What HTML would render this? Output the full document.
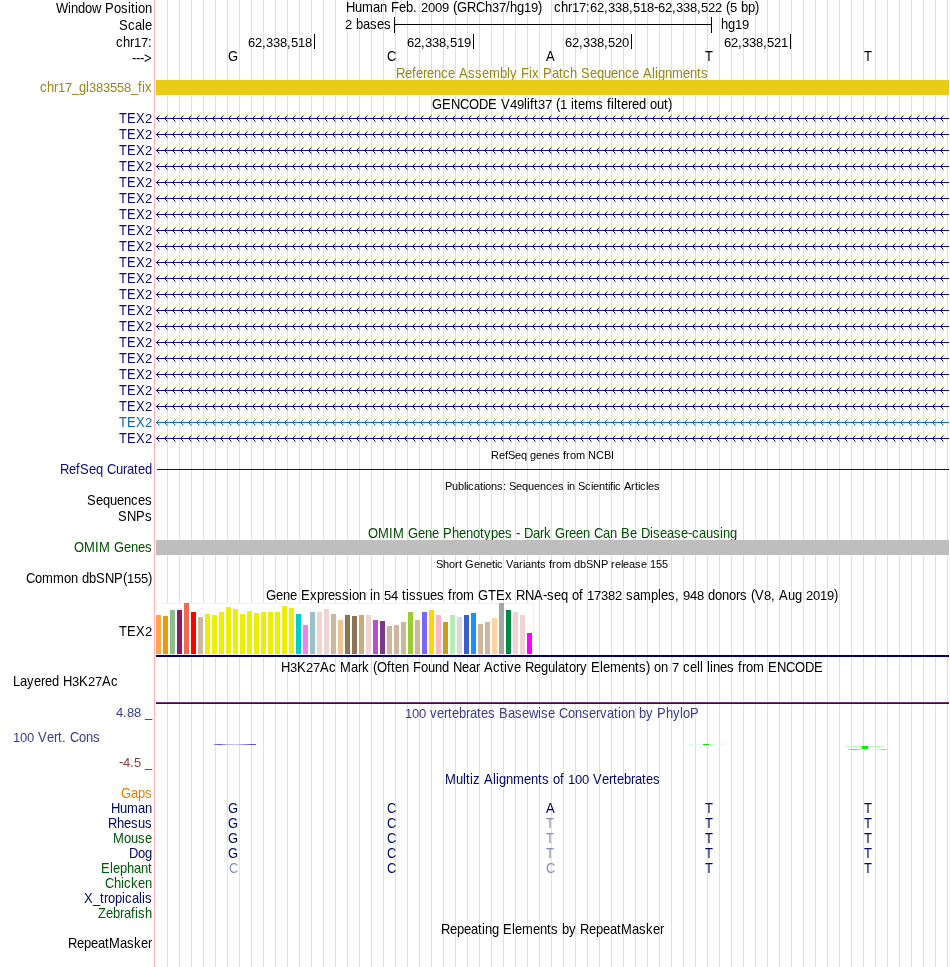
<!DOCTYPE html>
<html><head><meta charset="utf-8"><title>UCSC Genome Browser</title>
<style>
html,body{margin:0;padding:0;background:#fff;overflow:hidden;}
svg{display:block;font-family:"Liberation Sans", sans-serif;will-change:transform;}
text{white-space:pre;font-kerning:none;font-variant-ligatures:none;}
</style></head><body>
<svg width="950" height="967" viewBox="0 0 950 967">
<rect width="950" height="967" fill="#fff"/>
<path d="M167.5,0V967M179.5,0V967M191.5,0V967M203.5,0V967M215.5,0V967M227.5,0V967M239.5,0V967M251.5,0V967M263.5,0V967M275.5,0V967M287.5,0V967M299.5,0V967M311.5,0V967M323.5,0V967M335.5,0V967M347.5,0V967M359.5,0V967M371.5,0V967M383.5,0V967M395.5,0V967M407.5,0V967M419.5,0V967M431.5,0V967M443.5,0V967M455.5,0V967M467.5,0V967M479.5,0V967M491.5,0V967M503.5,0V967M515.5,0V967M527.5,0V967M539.5,0V967M551.5,0V967M563.5,0V967M575.5,0V967M587.5,0V967M599.5,0V967M611.5,0V967M623.5,0V967M635.5,0V967M647.5,0V967M659.5,0V967M671.5,0V967M683.5,0V967M695.5,0V967M707.5,0V967M719.5,0V967M731.5,0V967M743.5,0V967M755.5,0V967M767.5,0V967M779.5,0V967M791.5,0V967M803.5,0V967M815.5,0V967M827.5,0V967M839.5,0V967M851.5,0V967M863.5,0V967M875.5,0V967M887.5,0V967M899.5,0V967M911.5,0V967M923.5,0V967M935.5,0V967M947.5,0V967" stroke="#dcdcff" stroke-width="1" fill="none" shape-rendering="crispEdges"/>
<rect x="154" y="0" width="1" height="967" fill="#ffb3b6"/>
<text x="56 68 71 78 85 92 101 105 114 121 128 131 135 138 145" y="0" transform="matrix(1 0 0 1.075 0 13)" font-size="13" fill="#000">Window Position</text>
<text x="119 128 135 142 145" y="0" transform="matrix(1 0 0 1.075 0 30)" font-size="13" fill="#000">Scale</text>
<text x="116 123 130" y="0" transform="matrix(1 0 0 1.075 0 47)" font-size="13" fill="#000">chr</text><text x="134 141" y="47" font-size="13" fill="#000">17</text><text x="148" y="0" transform="matrix(1 0 0 1.075 0 47)" font-size="13" fill="#000">:</text>
<text x="132 136 140 144" y="0" transform="matrix(1 0 0 1.075 0 63)" font-size="13" fill="#000">---&gt;</text>
<text x="346 355 362 373 380 387 391 399 406 413 417" y="0" transform="matrix(1 0 0 1.075 0 12)" font-size="13" fill="#000">Human Feb. </text><text x="421 428 435 442 449" y="12" font-size="13" fill="#000">2009 </text><text x="453 457 467 476 485" y="0" transform="matrix(1 0 0 1.075 0 12)" font-size="13" fill="#000">(GRCh</text><text x="492 499" y="12" font-size="13" fill="#000">37</text><text x="506 510 517" y="0" transform="matrix(1 0 0 1.075 0 12)" font-size="13" fill="#000">/hg</text><text x="524 531" y="12" font-size="13" fill="#000">19</text><text x="538" y="0" transform="matrix(1 0 0 1.075 0 12)" font-size="13" fill="#000">)</text>
<text x="554 561 568" y="0" transform="matrix(1 0 0 1.075 0 12)" font-size="13" fill="#000">chr</text><text x="572 579" y="12" font-size="13" fill="#000">17</text><text x="586" y="0" transform="matrix(1 0 0 1.075 0 12)" font-size="13" fill="#000">:</text><text x="590 597" y="12" font-size="13" fill="#000">62</text><text x="604" y="0" transform="matrix(1 0 0 1.075 0 12)" font-size="13" fill="#000">,</text><text x="608 615 622" y="12" font-size="13" fill="#000">338</text><text x="629" y="0" transform="matrix(1 0 0 1.075 0 12)" font-size="13" fill="#000">,</text><text x="633 640 647" y="12" font-size="13" fill="#000">518</text><text x="654" y="0" transform="matrix(1 0 0 1.075 0 12)" font-size="13" fill="#000">-</text><text x="658 665" y="12" font-size="13" fill="#000">62</text><text x="672" y="0" transform="matrix(1 0 0 1.075 0 12)" font-size="13" fill="#000">,</text><text x="676 683 690" y="12" font-size="13" fill="#000">338</text><text x="697" y="0" transform="matrix(1 0 0 1.075 0 12)" font-size="13" fill="#000">,</text><text x="701 708 715 722" y="12" font-size="13" fill="#000">522 </text><text x="726" y="0" transform="matrix(1 0 0 1.075 0 12)" font-size="13" fill="#000">(</text><text x="730 737" y="12" font-size="13" fill="#000">5 </text><text x="741 748 755" y="0" transform="matrix(1 0 0 1.075 0 12)" font-size="13" fill="#000">bp)</text>
<text x="345 352" y="29" font-size="13" fill="#000">2 </text><text x="356 363 370 377 384" y="0" transform="matrix(1 0 0 1.075 0 29)" font-size="13" fill="#000">bases</text>
<rect x="394" y="17" width="1" height="16" fill="#000"/>
<rect x="711" y="17" width="1" height="16" fill="#000"/>
<rect x="394" y="24" width="318" height="1" fill="#000"/>
<text x="721 728" y="0" transform="matrix(1 0 0 1.075 0 29)" font-size="13" fill="#000">hg</text><text x="735 742" y="29" font-size="13" fill="#000">19</text>
<rect x="314" y="34" width="1" height="15" fill="#000"/>
<text x="248 255" y="47" font-size="13" fill="#000">62</text><text x="262" y="0" transform="matrix(1 0 0 1.075 0 47)" font-size="13" fill="#000">,</text><text x="266 273 280" y="47" font-size="13" fill="#000">338</text><text x="287" y="0" transform="matrix(1 0 0 1.075 0 47)" font-size="13" fill="#000">,</text><text x="291 298 305" y="47" font-size="13" fill="#000">518</text>
<rect x="473" y="34" width="1" height="15" fill="#000"/>
<text x="407 414" y="47" font-size="13" fill="#000">62</text><text x="421" y="0" transform="matrix(1 0 0 1.075 0 47)" font-size="13" fill="#000">,</text><text x="425 432 439" y="47" font-size="13" fill="#000">338</text><text x="446" y="0" transform="matrix(1 0 0 1.075 0 47)" font-size="13" fill="#000">,</text><text x="450 457 464" y="47" font-size="13" fill="#000">519</text>
<rect x="631" y="34" width="1" height="15" fill="#000"/>
<text x="565 572" y="47" font-size="13" fill="#000">62</text><text x="579" y="0" transform="matrix(1 0 0 1.075 0 47)" font-size="13" fill="#000">,</text><text x="583 590 597" y="47" font-size="13" fill="#000">338</text><text x="604" y="0" transform="matrix(1 0 0 1.075 0 47)" font-size="13" fill="#000">,</text><text x="608 615 622" y="47" font-size="13" fill="#000">520</text>
<rect x="790" y="34" width="1" height="15" fill="#000"/>
<text x="724 731" y="47" font-size="13" fill="#000">62</text><text x="738" y="0" transform="matrix(1 0 0 1.075 0 47)" font-size="13" fill="#000">,</text><text x="742 749 756" y="47" font-size="13" fill="#000">338</text><text x="763" y="0" transform="matrix(1 0 0 1.075 0 47)" font-size="13" fill="#000">,</text><text x="767 774 781" y="47" font-size="13" fill="#000">521</text>
<text x="228" y="0" transform="matrix(1 0 0 1.075 0 61)" font-size="13" fill="#000">G</text>
<text x="387" y="0" transform="matrix(1 0 0 1.075 0 61)" font-size="13" fill="#000">C</text>
<text x="546" y="0" transform="matrix(1 0 0 1.075 0 61)" font-size="13" fill="#000">A</text>
<text x="705" y="0" transform="matrix(1 0 0 1.075 0 61)" font-size="13" fill="#000">T</text>
<text x="864" y="0" transform="matrix(1 0 0 1.075 0 61)" font-size="13" fill="#000">T</text>
<text x="396 405 412 416 423 427 434 441 448 455 459 468 475 482 489 500 507 510 517 521 529 532 539 543 552 559 563 570 577 581 590 597 604 611 618 625 632 639 643 652 655 658 665 672 683 690 697 701" y="0" transform="matrix(1 0 0 1.075 0 78)" font-size="13" fill="#9c8616">Reference Assembly Fix Patch Sequence Alignments</text>
<rect x="156" y="80" width="793" height="15" fill="#e8cc18"/>
<text x="40 47 54" y="0" transform="matrix(1 0 0 1.075 0 92)" font-size="13" fill="#9c8616">chr</text><text x="58 65" y="92" font-size="13" fill="#9c8616">17</text><text x="72 79 86" y="0" transform="matrix(1 0 0 1.075 0 92)" font-size="13" fill="#9c8616">_gl</text><text x="89 96 103 110 117 124" y="92" font-size="13" fill="#9c8616">383558</text><text x="131 138 142 145" y="0" transform="matrix(1 0 0 1.075 0 92)" font-size="13" fill="#9c8616">_fix</text>
<text x="432 442 451 460 469 479 488 497 501" y="0" transform="matrix(1 0 0 1.075 0 109)" font-size="13" fill="#000">GENCODE V</text><text x="510 517" y="109" font-size="13" fill="#000">49</text><text x="524 527 530 534" y="0" transform="matrix(1 0 0 1.075 0 109)" font-size="13" fill="#000">lift</text><text x="538 545 552" y="109" font-size="13" fill="#000">37 </text><text x="556" y="0" transform="matrix(1 0 0 1.075 0 109)" font-size="13" fill="#000">(</text><text x="560 567" y="109" font-size="13" fill="#000">1 </text><text x="571 574 578 585 596 603 607 611 614 617 621 628 632 639 646 650 657 664 668" y="0" transform="matrix(1 0 0 1.075 0 109)" font-size="13" fill="#000">items filtered out)</text>
<text x="119 127 136" y="0" transform="matrix(1 0 0 1.075 0 123)" font-size="13" fill="#0c0c78">TEX</text><text x="145" y="123" font-size="13" fill="#0c0c78">2</text>
<rect x="156" y="118" width="793" height="1" fill="#0c0c78"/>
<path d="M159.5,115.5L156.5,118.5L159.5,121.5M167.5,115.5L164.5,118.5L167.5,121.5M175.5,115.5L172.5,118.5L175.5,121.5M183.5,115.5L180.5,118.5L183.5,121.5M191.5,115.5L188.5,118.5L191.5,121.5M199.5,115.5L196.5,118.5L199.5,121.5M207.5,115.5L204.5,118.5L207.5,121.5M215.5,115.5L212.5,118.5L215.5,121.5M223.5,115.5L220.5,118.5L223.5,121.5M231.5,115.5L228.5,118.5L231.5,121.5M239.5,115.5L236.5,118.5L239.5,121.5M247.5,115.5L244.5,118.5L247.5,121.5M255.5,115.5L252.5,118.5L255.5,121.5M263.5,115.5L260.5,118.5L263.5,121.5M271.5,115.5L268.5,118.5L271.5,121.5M279.5,115.5L276.5,118.5L279.5,121.5M287.5,115.5L284.5,118.5L287.5,121.5M295.5,115.5L292.5,118.5L295.5,121.5M303.5,115.5L300.5,118.5L303.5,121.5M311.5,115.5L308.5,118.5L311.5,121.5M319.5,115.5L316.5,118.5L319.5,121.5M327.5,115.5L324.5,118.5L327.5,121.5M335.5,115.5L332.5,118.5L335.5,121.5M343.5,115.5L340.5,118.5L343.5,121.5M351.5,115.5L348.5,118.5L351.5,121.5M359.5,115.5L356.5,118.5L359.5,121.5M367.5,115.5L364.5,118.5L367.5,121.5M375.5,115.5L372.5,118.5L375.5,121.5M383.5,115.5L380.5,118.5L383.5,121.5M391.5,115.5L388.5,118.5L391.5,121.5M399.5,115.5L396.5,118.5L399.5,121.5M407.5,115.5L404.5,118.5L407.5,121.5M415.5,115.5L412.5,118.5L415.5,121.5M423.5,115.5L420.5,118.5L423.5,121.5M431.5,115.5L428.5,118.5L431.5,121.5M439.5,115.5L436.5,118.5L439.5,121.5M447.5,115.5L444.5,118.5L447.5,121.5M455.5,115.5L452.5,118.5L455.5,121.5M463.5,115.5L460.5,118.5L463.5,121.5M471.5,115.5L468.5,118.5L471.5,121.5M479.5,115.5L476.5,118.5L479.5,121.5M487.5,115.5L484.5,118.5L487.5,121.5M495.5,115.5L492.5,118.5L495.5,121.5M503.5,115.5L500.5,118.5L503.5,121.5M511.5,115.5L508.5,118.5L511.5,121.5M519.5,115.5L516.5,118.5L519.5,121.5M527.5,115.5L524.5,118.5L527.5,121.5M535.5,115.5L532.5,118.5L535.5,121.5M543.5,115.5L540.5,118.5L543.5,121.5M551.5,115.5L548.5,118.5L551.5,121.5M559.5,115.5L556.5,118.5L559.5,121.5M567.5,115.5L564.5,118.5L567.5,121.5M575.5,115.5L572.5,118.5L575.5,121.5M583.5,115.5L580.5,118.5L583.5,121.5M591.5,115.5L588.5,118.5L591.5,121.5M599.5,115.5L596.5,118.5L599.5,121.5M607.5,115.5L604.5,118.5L607.5,121.5M615.5,115.5L612.5,118.5L615.5,121.5M623.5,115.5L620.5,118.5L623.5,121.5M631.5,115.5L628.5,118.5L631.5,121.5M639.5,115.5L636.5,118.5L639.5,121.5M647.5,115.5L644.5,118.5L647.5,121.5M655.5,115.5L652.5,118.5L655.5,121.5M663.5,115.5L660.5,118.5L663.5,121.5M671.5,115.5L668.5,118.5L671.5,121.5M679.5,115.5L676.5,118.5L679.5,121.5M687.5,115.5L684.5,118.5L687.5,121.5M695.5,115.5L692.5,118.5L695.5,121.5M703.5,115.5L700.5,118.5L703.5,121.5M711.5,115.5L708.5,118.5L711.5,121.5M719.5,115.5L716.5,118.5L719.5,121.5M727.5,115.5L724.5,118.5L727.5,121.5M735.5,115.5L732.5,118.5L735.5,121.5M743.5,115.5L740.5,118.5L743.5,121.5M751.5,115.5L748.5,118.5L751.5,121.5M759.5,115.5L756.5,118.5L759.5,121.5M767.5,115.5L764.5,118.5L767.5,121.5M775.5,115.5L772.5,118.5L775.5,121.5M783.5,115.5L780.5,118.5L783.5,121.5M791.5,115.5L788.5,118.5L791.5,121.5M799.5,115.5L796.5,118.5L799.5,121.5M807.5,115.5L804.5,118.5L807.5,121.5M815.5,115.5L812.5,118.5L815.5,121.5M823.5,115.5L820.5,118.5L823.5,121.5M831.5,115.5L828.5,118.5L831.5,121.5M839.5,115.5L836.5,118.5L839.5,121.5M847.5,115.5L844.5,118.5L847.5,121.5M855.5,115.5L852.5,118.5L855.5,121.5M863.5,115.5L860.5,118.5L863.5,121.5M871.5,115.5L868.5,118.5L871.5,121.5M879.5,115.5L876.5,118.5L879.5,121.5M887.5,115.5L884.5,118.5L887.5,121.5M895.5,115.5L892.5,118.5L895.5,121.5M903.5,115.5L900.5,118.5L903.5,121.5M911.5,115.5L908.5,118.5L911.5,121.5M919.5,115.5L916.5,118.5L919.5,121.5M927.5,115.5L924.5,118.5L927.5,121.5M935.5,115.5L932.5,118.5L935.5,121.5M943.5,115.5L940.5,118.5L943.5,121.5" stroke="#0c0c78" stroke-width="1" fill="none"/>
<text x="119 127 136" y="0" transform="matrix(1 0 0 1.075 0 139)" font-size="13" fill="#0c0c78">TEX</text><text x="145" y="139" font-size="13" fill="#0c0c78">2</text>
<rect x="156" y="134" width="793" height="1" fill="#0c0c78"/>
<path d="M159.5,131.5L156.5,134.5L159.5,137.5M167.5,131.5L164.5,134.5L167.5,137.5M175.5,131.5L172.5,134.5L175.5,137.5M183.5,131.5L180.5,134.5L183.5,137.5M191.5,131.5L188.5,134.5L191.5,137.5M199.5,131.5L196.5,134.5L199.5,137.5M207.5,131.5L204.5,134.5L207.5,137.5M215.5,131.5L212.5,134.5L215.5,137.5M223.5,131.5L220.5,134.5L223.5,137.5M231.5,131.5L228.5,134.5L231.5,137.5M239.5,131.5L236.5,134.5L239.5,137.5M247.5,131.5L244.5,134.5L247.5,137.5M255.5,131.5L252.5,134.5L255.5,137.5M263.5,131.5L260.5,134.5L263.5,137.5M271.5,131.5L268.5,134.5L271.5,137.5M279.5,131.5L276.5,134.5L279.5,137.5M287.5,131.5L284.5,134.5L287.5,137.5M295.5,131.5L292.5,134.5L295.5,137.5M303.5,131.5L300.5,134.5L303.5,137.5M311.5,131.5L308.5,134.5L311.5,137.5M319.5,131.5L316.5,134.5L319.5,137.5M327.5,131.5L324.5,134.5L327.5,137.5M335.5,131.5L332.5,134.5L335.5,137.5M343.5,131.5L340.5,134.5L343.5,137.5M351.5,131.5L348.5,134.5L351.5,137.5M359.5,131.5L356.5,134.5L359.5,137.5M367.5,131.5L364.5,134.5L367.5,137.5M375.5,131.5L372.5,134.5L375.5,137.5M383.5,131.5L380.5,134.5L383.5,137.5M391.5,131.5L388.5,134.5L391.5,137.5M399.5,131.5L396.5,134.5L399.5,137.5M407.5,131.5L404.5,134.5L407.5,137.5M415.5,131.5L412.5,134.5L415.5,137.5M423.5,131.5L420.5,134.5L423.5,137.5M431.5,131.5L428.5,134.5L431.5,137.5M439.5,131.5L436.5,134.5L439.5,137.5M447.5,131.5L444.5,134.5L447.5,137.5M455.5,131.5L452.5,134.5L455.5,137.5M463.5,131.5L460.5,134.5L463.5,137.5M471.5,131.5L468.5,134.5L471.5,137.5M479.5,131.5L476.5,134.5L479.5,137.5M487.5,131.5L484.5,134.5L487.5,137.5M495.5,131.5L492.5,134.5L495.5,137.5M503.5,131.5L500.5,134.5L503.5,137.5M511.5,131.5L508.5,134.5L511.5,137.5M519.5,131.5L516.5,134.5L519.5,137.5M527.5,131.5L524.5,134.5L527.5,137.5M535.5,131.5L532.5,134.5L535.5,137.5M543.5,131.5L540.5,134.5L543.5,137.5M551.5,131.5L548.5,134.5L551.5,137.5M559.5,131.5L556.5,134.5L559.5,137.5M567.5,131.5L564.5,134.5L567.5,137.5M575.5,131.5L572.5,134.5L575.5,137.5M583.5,131.5L580.5,134.5L583.5,137.5M591.5,131.5L588.5,134.5L591.5,137.5M599.5,131.5L596.5,134.5L599.5,137.5M607.5,131.5L604.5,134.5L607.5,137.5M615.5,131.5L612.5,134.5L615.5,137.5M623.5,131.5L620.5,134.5L623.5,137.5M631.5,131.5L628.5,134.5L631.5,137.5M639.5,131.5L636.5,134.5L639.5,137.5M647.5,131.5L644.5,134.5L647.5,137.5M655.5,131.5L652.5,134.5L655.5,137.5M663.5,131.5L660.5,134.5L663.5,137.5M671.5,131.5L668.5,134.5L671.5,137.5M679.5,131.5L676.5,134.5L679.5,137.5M687.5,131.5L684.5,134.5L687.5,137.5M695.5,131.5L692.5,134.5L695.5,137.5M703.5,131.5L700.5,134.5L703.5,137.5M711.5,131.5L708.5,134.5L711.5,137.5M719.5,131.5L716.5,134.5L719.5,137.5M727.5,131.5L724.5,134.5L727.5,137.5M735.5,131.5L732.5,134.5L735.5,137.5M743.5,131.5L740.5,134.5L743.5,137.5M751.5,131.5L748.5,134.5L751.5,137.5M759.5,131.5L756.5,134.5L759.5,137.5M767.5,131.5L764.5,134.5L767.5,137.5M775.5,131.5L772.5,134.5L775.5,137.5M783.5,131.5L780.5,134.5L783.5,137.5M791.5,131.5L788.5,134.5L791.5,137.5M799.5,131.5L796.5,134.5L799.5,137.5M807.5,131.5L804.5,134.5L807.5,137.5M815.5,131.5L812.5,134.5L815.5,137.5M823.5,131.5L820.5,134.5L823.5,137.5M831.5,131.5L828.5,134.5L831.5,137.5M839.5,131.5L836.5,134.5L839.5,137.5M847.5,131.5L844.5,134.5L847.5,137.5M855.5,131.5L852.5,134.5L855.5,137.5M863.5,131.5L860.5,134.5L863.5,137.5M871.5,131.5L868.5,134.5L871.5,137.5M879.5,131.5L876.5,134.5L879.5,137.5M887.5,131.5L884.5,134.5L887.5,137.5M895.5,131.5L892.5,134.5L895.5,137.5M903.5,131.5L900.5,134.5L903.5,137.5M911.5,131.5L908.5,134.5L911.5,137.5M919.5,131.5L916.5,134.5L919.5,137.5M927.5,131.5L924.5,134.5L927.5,137.5M935.5,131.5L932.5,134.5L935.5,137.5M943.5,131.5L940.5,134.5L943.5,137.5" stroke="#0c0c78" stroke-width="1" fill="none"/>
<text x="119 127 136" y="0" transform="matrix(1 0 0 1.075 0 155)" font-size="13" fill="#0c0c78">TEX</text><text x="145" y="155" font-size="13" fill="#0c0c78">2</text>
<rect x="156" y="150" width="793" height="1" fill="#0c0c78"/>
<path d="M159.5,147.5L156.5,150.5L159.5,153.5M167.5,147.5L164.5,150.5L167.5,153.5M175.5,147.5L172.5,150.5L175.5,153.5M183.5,147.5L180.5,150.5L183.5,153.5M191.5,147.5L188.5,150.5L191.5,153.5M199.5,147.5L196.5,150.5L199.5,153.5M207.5,147.5L204.5,150.5L207.5,153.5M215.5,147.5L212.5,150.5L215.5,153.5M223.5,147.5L220.5,150.5L223.5,153.5M231.5,147.5L228.5,150.5L231.5,153.5M239.5,147.5L236.5,150.5L239.5,153.5M247.5,147.5L244.5,150.5L247.5,153.5M255.5,147.5L252.5,150.5L255.5,153.5M263.5,147.5L260.5,150.5L263.5,153.5M271.5,147.5L268.5,150.5L271.5,153.5M279.5,147.5L276.5,150.5L279.5,153.5M287.5,147.5L284.5,150.5L287.5,153.5M295.5,147.5L292.5,150.5L295.5,153.5M303.5,147.5L300.5,150.5L303.5,153.5M311.5,147.5L308.5,150.5L311.5,153.5M319.5,147.5L316.5,150.5L319.5,153.5M327.5,147.5L324.5,150.5L327.5,153.5M335.5,147.5L332.5,150.5L335.5,153.5M343.5,147.5L340.5,150.5L343.5,153.5M351.5,147.5L348.5,150.5L351.5,153.5M359.5,147.5L356.5,150.5L359.5,153.5M367.5,147.5L364.5,150.5L367.5,153.5M375.5,147.5L372.5,150.5L375.5,153.5M383.5,147.5L380.5,150.5L383.5,153.5M391.5,147.5L388.5,150.5L391.5,153.5M399.5,147.5L396.5,150.5L399.5,153.5M407.5,147.5L404.5,150.5L407.5,153.5M415.5,147.5L412.5,150.5L415.5,153.5M423.5,147.5L420.5,150.5L423.5,153.5M431.5,147.5L428.5,150.5L431.5,153.5M439.5,147.5L436.5,150.5L439.5,153.5M447.5,147.5L444.5,150.5L447.5,153.5M455.5,147.5L452.5,150.5L455.5,153.5M463.5,147.5L460.5,150.5L463.5,153.5M471.5,147.5L468.5,150.5L471.5,153.5M479.5,147.5L476.5,150.5L479.5,153.5M487.5,147.5L484.5,150.5L487.5,153.5M495.5,147.5L492.5,150.5L495.5,153.5M503.5,147.5L500.5,150.5L503.5,153.5M511.5,147.5L508.5,150.5L511.5,153.5M519.5,147.5L516.5,150.5L519.5,153.5M527.5,147.5L524.5,150.5L527.5,153.5M535.5,147.5L532.5,150.5L535.5,153.5M543.5,147.5L540.5,150.5L543.5,153.5M551.5,147.5L548.5,150.5L551.5,153.5M559.5,147.5L556.5,150.5L559.5,153.5M567.5,147.5L564.5,150.5L567.5,153.5M575.5,147.5L572.5,150.5L575.5,153.5M583.5,147.5L580.5,150.5L583.5,153.5M591.5,147.5L588.5,150.5L591.5,153.5M599.5,147.5L596.5,150.5L599.5,153.5M607.5,147.5L604.5,150.5L607.5,153.5M615.5,147.5L612.5,150.5L615.5,153.5M623.5,147.5L620.5,150.5L623.5,153.5M631.5,147.5L628.5,150.5L631.5,153.5M639.5,147.5L636.5,150.5L639.5,153.5M647.5,147.5L644.5,150.5L647.5,153.5M655.5,147.5L652.5,150.5L655.5,153.5M663.5,147.5L660.5,150.5L663.5,153.5M671.5,147.5L668.5,150.5L671.5,153.5M679.5,147.5L676.5,150.5L679.5,153.5M687.5,147.5L684.5,150.5L687.5,153.5M695.5,147.5L692.5,150.5L695.5,153.5M703.5,147.5L700.5,150.5L703.5,153.5M711.5,147.5L708.5,150.5L711.5,153.5M719.5,147.5L716.5,150.5L719.5,153.5M727.5,147.5L724.5,150.5L727.5,153.5M735.5,147.5L732.5,150.5L735.5,153.5M743.5,147.5L740.5,150.5L743.5,153.5M751.5,147.5L748.5,150.5L751.5,153.5M759.5,147.5L756.5,150.5L759.5,153.5M767.5,147.5L764.5,150.5L767.5,153.5M775.5,147.5L772.5,150.5L775.5,153.5M783.5,147.5L780.5,150.5L783.5,153.5M791.5,147.5L788.5,150.5L791.5,153.5M799.5,147.5L796.5,150.5L799.5,153.5M807.5,147.5L804.5,150.5L807.5,153.5M815.5,147.5L812.5,150.5L815.5,153.5M823.5,147.5L820.5,150.5L823.5,153.5M831.5,147.5L828.5,150.5L831.5,153.5M839.5,147.5L836.5,150.5L839.5,153.5M847.5,147.5L844.5,150.5L847.5,153.5M855.5,147.5L852.5,150.5L855.5,153.5M863.5,147.5L860.5,150.5L863.5,153.5M871.5,147.5L868.5,150.5L871.5,153.5M879.5,147.5L876.5,150.5L879.5,153.5M887.5,147.5L884.5,150.5L887.5,153.5M895.5,147.5L892.5,150.5L895.5,153.5M903.5,147.5L900.5,150.5L903.5,153.5M911.5,147.5L908.5,150.5L911.5,153.5M919.5,147.5L916.5,150.5L919.5,153.5M927.5,147.5L924.5,150.5L927.5,153.5M935.5,147.5L932.5,150.5L935.5,153.5M943.5,147.5L940.5,150.5L943.5,153.5" stroke="#0c0c78" stroke-width="1" fill="none"/>
<text x="119 127 136" y="0" transform="matrix(1 0 0 1.075 0 171)" font-size="13" fill="#0c0c78">TEX</text><text x="145" y="171" font-size="13" fill="#0c0c78">2</text>
<rect x="156" y="166" width="793" height="1" fill="#0c0c78"/>
<path d="M159.5,163.5L156.5,166.5L159.5,169.5M167.5,163.5L164.5,166.5L167.5,169.5M175.5,163.5L172.5,166.5L175.5,169.5M183.5,163.5L180.5,166.5L183.5,169.5M191.5,163.5L188.5,166.5L191.5,169.5M199.5,163.5L196.5,166.5L199.5,169.5M207.5,163.5L204.5,166.5L207.5,169.5M215.5,163.5L212.5,166.5L215.5,169.5M223.5,163.5L220.5,166.5L223.5,169.5M231.5,163.5L228.5,166.5L231.5,169.5M239.5,163.5L236.5,166.5L239.5,169.5M247.5,163.5L244.5,166.5L247.5,169.5M255.5,163.5L252.5,166.5L255.5,169.5M263.5,163.5L260.5,166.5L263.5,169.5M271.5,163.5L268.5,166.5L271.5,169.5M279.5,163.5L276.5,166.5L279.5,169.5M287.5,163.5L284.5,166.5L287.5,169.5M295.5,163.5L292.5,166.5L295.5,169.5M303.5,163.5L300.5,166.5L303.5,169.5M311.5,163.5L308.5,166.5L311.5,169.5M319.5,163.5L316.5,166.5L319.5,169.5M327.5,163.5L324.5,166.5L327.5,169.5M335.5,163.5L332.5,166.5L335.5,169.5M343.5,163.5L340.5,166.5L343.5,169.5M351.5,163.5L348.5,166.5L351.5,169.5M359.5,163.5L356.5,166.5L359.5,169.5M367.5,163.5L364.5,166.5L367.5,169.5M375.5,163.5L372.5,166.5L375.5,169.5M383.5,163.5L380.5,166.5L383.5,169.5M391.5,163.5L388.5,166.5L391.5,169.5M399.5,163.5L396.5,166.5L399.5,169.5M407.5,163.5L404.5,166.5L407.5,169.5M415.5,163.5L412.5,166.5L415.5,169.5M423.5,163.5L420.5,166.5L423.5,169.5M431.5,163.5L428.5,166.5L431.5,169.5M439.5,163.5L436.5,166.5L439.5,169.5M447.5,163.5L444.5,166.5L447.5,169.5M455.5,163.5L452.5,166.5L455.5,169.5M463.5,163.5L460.5,166.5L463.5,169.5M471.5,163.5L468.5,166.5L471.5,169.5M479.5,163.5L476.5,166.5L479.5,169.5M487.5,163.5L484.5,166.5L487.5,169.5M495.5,163.5L492.5,166.5L495.5,169.5M503.5,163.5L500.5,166.5L503.5,169.5M511.5,163.5L508.5,166.5L511.5,169.5M519.5,163.5L516.5,166.5L519.5,169.5M527.5,163.5L524.5,166.5L527.5,169.5M535.5,163.5L532.5,166.5L535.5,169.5M543.5,163.5L540.5,166.5L543.5,169.5M551.5,163.5L548.5,166.5L551.5,169.5M559.5,163.5L556.5,166.5L559.5,169.5M567.5,163.5L564.5,166.5L567.5,169.5M575.5,163.5L572.5,166.5L575.5,169.5M583.5,163.5L580.5,166.5L583.5,169.5M591.5,163.5L588.5,166.5L591.5,169.5M599.5,163.5L596.5,166.5L599.5,169.5M607.5,163.5L604.5,166.5L607.5,169.5M615.5,163.5L612.5,166.5L615.5,169.5M623.5,163.5L620.5,166.5L623.5,169.5M631.5,163.5L628.5,166.5L631.5,169.5M639.5,163.5L636.5,166.5L639.5,169.5M647.5,163.5L644.5,166.5L647.5,169.5M655.5,163.5L652.5,166.5L655.5,169.5M663.5,163.5L660.5,166.5L663.5,169.5M671.5,163.5L668.5,166.5L671.5,169.5M679.5,163.5L676.5,166.5L679.5,169.5M687.5,163.5L684.5,166.5L687.5,169.5M695.5,163.5L692.5,166.5L695.5,169.5M703.5,163.5L700.5,166.5L703.5,169.5M711.5,163.5L708.5,166.5L711.5,169.5M719.5,163.5L716.5,166.5L719.5,169.5M727.5,163.5L724.5,166.5L727.5,169.5M735.5,163.5L732.5,166.5L735.5,169.5M743.5,163.5L740.5,166.5L743.5,169.5M751.5,163.5L748.5,166.5L751.5,169.5M759.5,163.5L756.5,166.5L759.5,169.5M767.5,163.5L764.5,166.5L767.5,169.5M775.5,163.5L772.5,166.5L775.5,169.5M783.5,163.5L780.5,166.5L783.5,169.5M791.5,163.5L788.5,166.5L791.5,169.5M799.5,163.5L796.5,166.5L799.5,169.5M807.5,163.5L804.5,166.5L807.5,169.5M815.5,163.5L812.5,166.5L815.5,169.5M823.5,163.5L820.5,166.5L823.5,169.5M831.5,163.5L828.5,166.5L831.5,169.5M839.5,163.5L836.5,166.5L839.5,169.5M847.5,163.5L844.5,166.5L847.5,169.5M855.5,163.5L852.5,166.5L855.5,169.5M863.5,163.5L860.5,166.5L863.5,169.5M871.5,163.5L868.5,166.5L871.5,169.5M879.5,163.5L876.5,166.5L879.5,169.5M887.5,163.5L884.5,166.5L887.5,169.5M895.5,163.5L892.5,166.5L895.5,169.5M903.5,163.5L900.5,166.5L903.5,169.5M911.5,163.5L908.5,166.5L911.5,169.5M919.5,163.5L916.5,166.5L919.5,169.5M927.5,163.5L924.5,166.5L927.5,169.5M935.5,163.5L932.5,166.5L935.5,169.5M943.5,163.5L940.5,166.5L943.5,169.5" stroke="#0c0c78" stroke-width="1" fill="none"/>
<text x="119 127 136" y="0" transform="matrix(1 0 0 1.075 0 187)" font-size="13" fill="#0c0c78">TEX</text><text x="145" y="187" font-size="13" fill="#0c0c78">2</text>
<rect x="156" y="182" width="793" height="1" fill="#0c0c78"/>
<path d="M159.5,179.5L156.5,182.5L159.5,185.5M167.5,179.5L164.5,182.5L167.5,185.5M175.5,179.5L172.5,182.5L175.5,185.5M183.5,179.5L180.5,182.5L183.5,185.5M191.5,179.5L188.5,182.5L191.5,185.5M199.5,179.5L196.5,182.5L199.5,185.5M207.5,179.5L204.5,182.5L207.5,185.5M215.5,179.5L212.5,182.5L215.5,185.5M223.5,179.5L220.5,182.5L223.5,185.5M231.5,179.5L228.5,182.5L231.5,185.5M239.5,179.5L236.5,182.5L239.5,185.5M247.5,179.5L244.5,182.5L247.5,185.5M255.5,179.5L252.5,182.5L255.5,185.5M263.5,179.5L260.5,182.5L263.5,185.5M271.5,179.5L268.5,182.5L271.5,185.5M279.5,179.5L276.5,182.5L279.5,185.5M287.5,179.5L284.5,182.5L287.5,185.5M295.5,179.5L292.5,182.5L295.5,185.5M303.5,179.5L300.5,182.5L303.5,185.5M311.5,179.5L308.5,182.5L311.5,185.5M319.5,179.5L316.5,182.5L319.5,185.5M327.5,179.5L324.5,182.5L327.5,185.5M335.5,179.5L332.5,182.5L335.5,185.5M343.5,179.5L340.5,182.5L343.5,185.5M351.5,179.5L348.5,182.5L351.5,185.5M359.5,179.5L356.5,182.5L359.5,185.5M367.5,179.5L364.5,182.5L367.5,185.5M375.5,179.5L372.5,182.5L375.5,185.5M383.5,179.5L380.5,182.5L383.5,185.5M391.5,179.5L388.5,182.5L391.5,185.5M399.5,179.5L396.5,182.5L399.5,185.5M407.5,179.5L404.5,182.5L407.5,185.5M415.5,179.5L412.5,182.5L415.5,185.5M423.5,179.5L420.5,182.5L423.5,185.5M431.5,179.5L428.5,182.5L431.5,185.5M439.5,179.5L436.5,182.5L439.5,185.5M447.5,179.5L444.5,182.5L447.5,185.5M455.5,179.5L452.5,182.5L455.5,185.5M463.5,179.5L460.5,182.5L463.5,185.5M471.5,179.5L468.5,182.5L471.5,185.5M479.5,179.5L476.5,182.5L479.5,185.5M487.5,179.5L484.5,182.5L487.5,185.5M495.5,179.5L492.5,182.5L495.5,185.5M503.5,179.5L500.5,182.5L503.5,185.5M511.5,179.5L508.5,182.5L511.5,185.5M519.5,179.5L516.5,182.5L519.5,185.5M527.5,179.5L524.5,182.5L527.5,185.5M535.5,179.5L532.5,182.5L535.5,185.5M543.5,179.5L540.5,182.5L543.5,185.5M551.5,179.5L548.5,182.5L551.5,185.5M559.5,179.5L556.5,182.5L559.5,185.5M567.5,179.5L564.5,182.5L567.5,185.5M575.5,179.5L572.5,182.5L575.5,185.5M583.5,179.5L580.5,182.5L583.5,185.5M591.5,179.5L588.5,182.5L591.5,185.5M599.5,179.5L596.5,182.5L599.5,185.5M607.5,179.5L604.5,182.5L607.5,185.5M615.5,179.5L612.5,182.5L615.5,185.5M623.5,179.5L620.5,182.5L623.5,185.5M631.5,179.5L628.5,182.5L631.5,185.5M639.5,179.5L636.5,182.5L639.5,185.5M647.5,179.5L644.5,182.5L647.5,185.5M655.5,179.5L652.5,182.5L655.5,185.5M663.5,179.5L660.5,182.5L663.5,185.5M671.5,179.5L668.5,182.5L671.5,185.5M679.5,179.5L676.5,182.5L679.5,185.5M687.5,179.5L684.5,182.5L687.5,185.5M695.5,179.5L692.5,182.5L695.5,185.5M703.5,179.5L700.5,182.5L703.5,185.5M711.5,179.5L708.5,182.5L711.5,185.5M719.5,179.5L716.5,182.5L719.5,185.5M727.5,179.5L724.5,182.5L727.5,185.5M735.5,179.5L732.5,182.5L735.5,185.5M743.5,179.5L740.5,182.5L743.5,185.5M751.5,179.5L748.5,182.5L751.5,185.5M759.5,179.5L756.5,182.5L759.5,185.5M767.5,179.5L764.5,182.5L767.5,185.5M775.5,179.5L772.5,182.5L775.5,185.5M783.5,179.5L780.5,182.5L783.5,185.5M791.5,179.5L788.5,182.5L791.5,185.5M799.5,179.5L796.5,182.5L799.5,185.5M807.5,179.5L804.5,182.5L807.5,185.5M815.5,179.5L812.5,182.5L815.5,185.5M823.5,179.5L820.5,182.5L823.5,185.5M831.5,179.5L828.5,182.5L831.5,185.5M839.5,179.5L836.5,182.5L839.5,185.5M847.5,179.5L844.5,182.5L847.5,185.5M855.5,179.5L852.5,182.5L855.5,185.5M863.5,179.5L860.5,182.5L863.5,185.5M871.5,179.5L868.5,182.5L871.5,185.5M879.5,179.5L876.5,182.5L879.5,185.5M887.5,179.5L884.5,182.5L887.5,185.5M895.5,179.5L892.5,182.5L895.5,185.5M903.5,179.5L900.5,182.5L903.5,185.5M911.5,179.5L908.5,182.5L911.5,185.5M919.5,179.5L916.5,182.5L919.5,185.5M927.5,179.5L924.5,182.5L927.5,185.5M935.5,179.5L932.5,182.5L935.5,185.5M943.5,179.5L940.5,182.5L943.5,185.5" stroke="#0c0c78" stroke-width="1" fill="none"/>
<text x="119 127 136" y="0" transform="matrix(1 0 0 1.075 0 203)" font-size="13" fill="#0c0c78">TEX</text><text x="145" y="203" font-size="13" fill="#0c0c78">2</text>
<rect x="156" y="198" width="793" height="1" fill="#0c0c78"/>
<path d="M159.5,195.5L156.5,198.5L159.5,201.5M167.5,195.5L164.5,198.5L167.5,201.5M175.5,195.5L172.5,198.5L175.5,201.5M183.5,195.5L180.5,198.5L183.5,201.5M191.5,195.5L188.5,198.5L191.5,201.5M199.5,195.5L196.5,198.5L199.5,201.5M207.5,195.5L204.5,198.5L207.5,201.5M215.5,195.5L212.5,198.5L215.5,201.5M223.5,195.5L220.5,198.5L223.5,201.5M231.5,195.5L228.5,198.5L231.5,201.5M239.5,195.5L236.5,198.5L239.5,201.5M247.5,195.5L244.5,198.5L247.5,201.5M255.5,195.5L252.5,198.5L255.5,201.5M263.5,195.5L260.5,198.5L263.5,201.5M271.5,195.5L268.5,198.5L271.5,201.5M279.5,195.5L276.5,198.5L279.5,201.5M287.5,195.5L284.5,198.5L287.5,201.5M295.5,195.5L292.5,198.5L295.5,201.5M303.5,195.5L300.5,198.5L303.5,201.5M311.5,195.5L308.5,198.5L311.5,201.5M319.5,195.5L316.5,198.5L319.5,201.5M327.5,195.5L324.5,198.5L327.5,201.5M335.5,195.5L332.5,198.5L335.5,201.5M343.5,195.5L340.5,198.5L343.5,201.5M351.5,195.5L348.5,198.5L351.5,201.5M359.5,195.5L356.5,198.5L359.5,201.5M367.5,195.5L364.5,198.5L367.5,201.5M375.5,195.5L372.5,198.5L375.5,201.5M383.5,195.5L380.5,198.5L383.5,201.5M391.5,195.5L388.5,198.5L391.5,201.5M399.5,195.5L396.5,198.5L399.5,201.5M407.5,195.5L404.5,198.5L407.5,201.5M415.5,195.5L412.5,198.5L415.5,201.5M423.5,195.5L420.5,198.5L423.5,201.5M431.5,195.5L428.5,198.5L431.5,201.5M439.5,195.5L436.5,198.5L439.5,201.5M447.5,195.5L444.5,198.5L447.5,201.5M455.5,195.5L452.5,198.5L455.5,201.5M463.5,195.5L460.5,198.5L463.5,201.5M471.5,195.5L468.5,198.5L471.5,201.5M479.5,195.5L476.5,198.5L479.5,201.5M487.5,195.5L484.5,198.5L487.5,201.5M495.5,195.5L492.5,198.5L495.5,201.5M503.5,195.5L500.5,198.5L503.5,201.5M511.5,195.5L508.5,198.5L511.5,201.5M519.5,195.5L516.5,198.5L519.5,201.5M527.5,195.5L524.5,198.5L527.5,201.5M535.5,195.5L532.5,198.5L535.5,201.5M543.5,195.5L540.5,198.5L543.5,201.5M551.5,195.5L548.5,198.5L551.5,201.5M559.5,195.5L556.5,198.5L559.5,201.5M567.5,195.5L564.5,198.5L567.5,201.5M575.5,195.5L572.5,198.5L575.5,201.5M583.5,195.5L580.5,198.5L583.5,201.5M591.5,195.5L588.5,198.5L591.5,201.5M599.5,195.5L596.5,198.5L599.5,201.5M607.5,195.5L604.5,198.5L607.5,201.5M615.5,195.5L612.5,198.5L615.5,201.5M623.5,195.5L620.5,198.5L623.5,201.5M631.5,195.5L628.5,198.5L631.5,201.5M639.5,195.5L636.5,198.5L639.5,201.5M647.5,195.5L644.5,198.5L647.5,201.5M655.5,195.5L652.5,198.5L655.5,201.5M663.5,195.5L660.5,198.5L663.5,201.5M671.5,195.5L668.5,198.5L671.5,201.5M679.5,195.5L676.5,198.5L679.5,201.5M687.5,195.5L684.5,198.5L687.5,201.5M695.5,195.5L692.5,198.5L695.5,201.5M703.5,195.5L700.5,198.5L703.5,201.5M711.5,195.5L708.5,198.5L711.5,201.5M719.5,195.5L716.5,198.5L719.5,201.5M727.5,195.5L724.5,198.5L727.5,201.5M735.5,195.5L732.5,198.5L735.5,201.5M743.5,195.5L740.5,198.5L743.5,201.5M751.5,195.5L748.5,198.5L751.5,201.5M759.5,195.5L756.5,198.5L759.5,201.5M767.5,195.5L764.5,198.5L767.5,201.5M775.5,195.5L772.5,198.5L775.5,201.5M783.5,195.5L780.5,198.5L783.5,201.5M791.5,195.5L788.5,198.5L791.5,201.5M799.5,195.5L796.5,198.5L799.5,201.5M807.5,195.5L804.5,198.5L807.5,201.5M815.5,195.5L812.5,198.5L815.5,201.5M823.5,195.5L820.5,198.5L823.5,201.5M831.5,195.5L828.5,198.5L831.5,201.5M839.5,195.5L836.5,198.5L839.5,201.5M847.5,195.5L844.5,198.5L847.5,201.5M855.5,195.5L852.5,198.5L855.5,201.5M863.5,195.5L860.5,198.5L863.5,201.5M871.5,195.5L868.5,198.5L871.5,201.5M879.5,195.5L876.5,198.5L879.5,201.5M887.5,195.5L884.5,198.5L887.5,201.5M895.5,195.5L892.5,198.5L895.5,201.5M903.5,195.5L900.5,198.5L903.5,201.5M911.5,195.5L908.5,198.5L911.5,201.5M919.5,195.5L916.5,198.5L919.5,201.5M927.5,195.5L924.5,198.5L927.5,201.5M935.5,195.5L932.5,198.5L935.5,201.5M943.5,195.5L940.5,198.5L943.5,201.5" stroke="#0c0c78" stroke-width="1" fill="none"/>
<text x="119 127 136" y="0" transform="matrix(1 0 0 1.075 0 219)" font-size="13" fill="#0c0c78">TEX</text><text x="145" y="219" font-size="13" fill="#0c0c78">2</text>
<rect x="156" y="214" width="793" height="1" fill="#0c0c78"/>
<path d="M159.5,211.5L156.5,214.5L159.5,217.5M167.5,211.5L164.5,214.5L167.5,217.5M175.5,211.5L172.5,214.5L175.5,217.5M183.5,211.5L180.5,214.5L183.5,217.5M191.5,211.5L188.5,214.5L191.5,217.5M199.5,211.5L196.5,214.5L199.5,217.5M207.5,211.5L204.5,214.5L207.5,217.5M215.5,211.5L212.5,214.5L215.5,217.5M223.5,211.5L220.5,214.5L223.5,217.5M231.5,211.5L228.5,214.5L231.5,217.5M239.5,211.5L236.5,214.5L239.5,217.5M247.5,211.5L244.5,214.5L247.5,217.5M255.5,211.5L252.5,214.5L255.5,217.5M263.5,211.5L260.5,214.5L263.5,217.5M271.5,211.5L268.5,214.5L271.5,217.5M279.5,211.5L276.5,214.5L279.5,217.5M287.5,211.5L284.5,214.5L287.5,217.5M295.5,211.5L292.5,214.5L295.5,217.5M303.5,211.5L300.5,214.5L303.5,217.5M311.5,211.5L308.5,214.5L311.5,217.5M319.5,211.5L316.5,214.5L319.5,217.5M327.5,211.5L324.5,214.5L327.5,217.5M335.5,211.5L332.5,214.5L335.5,217.5M343.5,211.5L340.5,214.5L343.5,217.5M351.5,211.5L348.5,214.5L351.5,217.5M359.5,211.5L356.5,214.5L359.5,217.5M367.5,211.5L364.5,214.5L367.5,217.5M375.5,211.5L372.5,214.5L375.5,217.5M383.5,211.5L380.5,214.5L383.5,217.5M391.5,211.5L388.5,214.5L391.5,217.5M399.5,211.5L396.5,214.5L399.5,217.5M407.5,211.5L404.5,214.5L407.5,217.5M415.5,211.5L412.5,214.5L415.5,217.5M423.5,211.5L420.5,214.5L423.5,217.5M431.5,211.5L428.5,214.5L431.5,217.5M439.5,211.5L436.5,214.5L439.5,217.5M447.5,211.5L444.5,214.5L447.5,217.5M455.5,211.5L452.5,214.5L455.5,217.5M463.5,211.5L460.5,214.5L463.5,217.5M471.5,211.5L468.5,214.5L471.5,217.5M479.5,211.5L476.5,214.5L479.5,217.5M487.5,211.5L484.5,214.5L487.5,217.5M495.5,211.5L492.5,214.5L495.5,217.5M503.5,211.5L500.5,214.5L503.5,217.5M511.5,211.5L508.5,214.5L511.5,217.5M519.5,211.5L516.5,214.5L519.5,217.5M527.5,211.5L524.5,214.5L527.5,217.5M535.5,211.5L532.5,214.5L535.5,217.5M543.5,211.5L540.5,214.5L543.5,217.5M551.5,211.5L548.5,214.5L551.5,217.5M559.5,211.5L556.5,214.5L559.5,217.5M567.5,211.5L564.5,214.5L567.5,217.5M575.5,211.5L572.5,214.5L575.5,217.5M583.5,211.5L580.5,214.5L583.5,217.5M591.5,211.5L588.5,214.5L591.5,217.5M599.5,211.5L596.5,214.5L599.5,217.5M607.5,211.5L604.5,214.5L607.5,217.5M615.5,211.5L612.5,214.5L615.5,217.5M623.5,211.5L620.5,214.5L623.5,217.5M631.5,211.5L628.5,214.5L631.5,217.5M639.5,211.5L636.5,214.5L639.5,217.5M647.5,211.5L644.5,214.5L647.5,217.5M655.5,211.5L652.5,214.5L655.5,217.5M663.5,211.5L660.5,214.5L663.5,217.5M671.5,211.5L668.5,214.5L671.5,217.5M679.5,211.5L676.5,214.5L679.5,217.5M687.5,211.5L684.5,214.5L687.5,217.5M695.5,211.5L692.5,214.5L695.5,217.5M703.5,211.5L700.5,214.5L703.5,217.5M711.5,211.5L708.5,214.5L711.5,217.5M719.5,211.5L716.5,214.5L719.5,217.5M727.5,211.5L724.5,214.5L727.5,217.5M735.5,211.5L732.5,214.5L735.5,217.5M743.5,211.5L740.5,214.5L743.5,217.5M751.5,211.5L748.5,214.5L751.5,217.5M759.5,211.5L756.5,214.5L759.5,217.5M767.5,211.5L764.5,214.5L767.5,217.5M775.5,211.5L772.5,214.5L775.5,217.5M783.5,211.5L780.5,214.5L783.5,217.5M791.5,211.5L788.5,214.5L791.5,217.5M799.5,211.5L796.5,214.5L799.5,217.5M807.5,211.5L804.5,214.5L807.5,217.5M815.5,211.5L812.5,214.5L815.5,217.5M823.5,211.5L820.5,214.5L823.5,217.5M831.5,211.5L828.5,214.5L831.5,217.5M839.5,211.5L836.5,214.5L839.5,217.5M847.5,211.5L844.5,214.5L847.5,217.5M855.5,211.5L852.5,214.5L855.5,217.5M863.5,211.5L860.5,214.5L863.5,217.5M871.5,211.5L868.5,214.5L871.5,217.5M879.5,211.5L876.5,214.5L879.5,217.5M887.5,211.5L884.5,214.5L887.5,217.5M895.5,211.5L892.5,214.5L895.5,217.5M903.5,211.5L900.5,214.5L903.5,217.5M911.5,211.5L908.5,214.5L911.5,217.5M919.5,211.5L916.5,214.5L919.5,217.5M927.5,211.5L924.5,214.5L927.5,217.5M935.5,211.5L932.5,214.5L935.5,217.5M943.5,211.5L940.5,214.5L943.5,217.5" stroke="#0c0c78" stroke-width="1" fill="none"/>
<text x="119 127 136" y="0" transform="matrix(1 0 0 1.075 0 235)" font-size="13" fill="#0c0c78">TEX</text><text x="145" y="235" font-size="13" fill="#0c0c78">2</text>
<rect x="156" y="230" width="793" height="1" fill="#0c0c78"/>
<path d="M159.5,227.5L156.5,230.5L159.5,233.5M167.5,227.5L164.5,230.5L167.5,233.5M175.5,227.5L172.5,230.5L175.5,233.5M183.5,227.5L180.5,230.5L183.5,233.5M191.5,227.5L188.5,230.5L191.5,233.5M199.5,227.5L196.5,230.5L199.5,233.5M207.5,227.5L204.5,230.5L207.5,233.5M215.5,227.5L212.5,230.5L215.5,233.5M223.5,227.5L220.5,230.5L223.5,233.5M231.5,227.5L228.5,230.5L231.5,233.5M239.5,227.5L236.5,230.5L239.5,233.5M247.5,227.5L244.5,230.5L247.5,233.5M255.5,227.5L252.5,230.5L255.5,233.5M263.5,227.5L260.5,230.5L263.5,233.5M271.5,227.5L268.5,230.5L271.5,233.5M279.5,227.5L276.5,230.5L279.5,233.5M287.5,227.5L284.5,230.5L287.5,233.5M295.5,227.5L292.5,230.5L295.5,233.5M303.5,227.5L300.5,230.5L303.5,233.5M311.5,227.5L308.5,230.5L311.5,233.5M319.5,227.5L316.5,230.5L319.5,233.5M327.5,227.5L324.5,230.5L327.5,233.5M335.5,227.5L332.5,230.5L335.5,233.5M343.5,227.5L340.5,230.5L343.5,233.5M351.5,227.5L348.5,230.5L351.5,233.5M359.5,227.5L356.5,230.5L359.5,233.5M367.5,227.5L364.5,230.5L367.5,233.5M375.5,227.5L372.5,230.5L375.5,233.5M383.5,227.5L380.5,230.5L383.5,233.5M391.5,227.5L388.5,230.5L391.5,233.5M399.5,227.5L396.5,230.5L399.5,233.5M407.5,227.5L404.5,230.5L407.5,233.5M415.5,227.5L412.5,230.5L415.5,233.5M423.5,227.5L420.5,230.5L423.5,233.5M431.5,227.5L428.5,230.5L431.5,233.5M439.5,227.5L436.5,230.5L439.5,233.5M447.5,227.5L444.5,230.5L447.5,233.5M455.5,227.5L452.5,230.5L455.5,233.5M463.5,227.5L460.5,230.5L463.5,233.5M471.5,227.5L468.5,230.5L471.5,233.5M479.5,227.5L476.5,230.5L479.5,233.5M487.5,227.5L484.5,230.5L487.5,233.5M495.5,227.5L492.5,230.5L495.5,233.5M503.5,227.5L500.5,230.5L503.5,233.5M511.5,227.5L508.5,230.5L511.5,233.5M519.5,227.5L516.5,230.5L519.5,233.5M527.5,227.5L524.5,230.5L527.5,233.5M535.5,227.5L532.5,230.5L535.5,233.5M543.5,227.5L540.5,230.5L543.5,233.5M551.5,227.5L548.5,230.5L551.5,233.5M559.5,227.5L556.5,230.5L559.5,233.5M567.5,227.5L564.5,230.5L567.5,233.5M575.5,227.5L572.5,230.5L575.5,233.5M583.5,227.5L580.5,230.5L583.5,233.5M591.5,227.5L588.5,230.5L591.5,233.5M599.5,227.5L596.5,230.5L599.5,233.5M607.5,227.5L604.5,230.5L607.5,233.5M615.5,227.5L612.5,230.5L615.5,233.5M623.5,227.5L620.5,230.5L623.5,233.5M631.5,227.5L628.5,230.5L631.5,233.5M639.5,227.5L636.5,230.5L639.5,233.5M647.5,227.5L644.5,230.5L647.5,233.5M655.5,227.5L652.5,230.5L655.5,233.5M663.5,227.5L660.5,230.5L663.5,233.5M671.5,227.5L668.5,230.5L671.5,233.5M679.5,227.5L676.5,230.5L679.5,233.5M687.5,227.5L684.5,230.5L687.5,233.5M695.5,227.5L692.5,230.5L695.5,233.5M703.5,227.5L700.5,230.5L703.5,233.5M711.5,227.5L708.5,230.5L711.5,233.5M719.5,227.5L716.5,230.5L719.5,233.5M727.5,227.5L724.5,230.5L727.5,233.5M735.5,227.5L732.5,230.5L735.5,233.5M743.5,227.5L740.5,230.5L743.5,233.5M751.5,227.5L748.5,230.5L751.5,233.5M759.5,227.5L756.5,230.5L759.5,233.5M767.5,227.5L764.5,230.5L767.5,233.5M775.5,227.5L772.5,230.5L775.5,233.5M783.5,227.5L780.5,230.5L783.5,233.5M791.5,227.5L788.5,230.5L791.5,233.5M799.5,227.5L796.5,230.5L799.5,233.5M807.5,227.5L804.5,230.5L807.5,233.5M815.5,227.5L812.5,230.5L815.5,233.5M823.5,227.5L820.5,230.5L823.5,233.5M831.5,227.5L828.5,230.5L831.5,233.5M839.5,227.5L836.5,230.5L839.5,233.5M847.5,227.5L844.5,230.5L847.5,233.5M855.5,227.5L852.5,230.5L855.5,233.5M863.5,227.5L860.5,230.5L863.5,233.5M871.5,227.5L868.5,230.5L871.5,233.5M879.5,227.5L876.5,230.5L879.5,233.5M887.5,227.5L884.5,230.5L887.5,233.5M895.5,227.5L892.5,230.5L895.5,233.5M903.5,227.5L900.5,230.5L903.5,233.5M911.5,227.5L908.5,230.5L911.5,233.5M919.5,227.5L916.5,230.5L919.5,233.5M927.5,227.5L924.5,230.5L927.5,233.5M935.5,227.5L932.5,230.5L935.5,233.5M943.5,227.5L940.5,230.5L943.5,233.5" stroke="#0c0c78" stroke-width="1" fill="none"/>
<text x="119 127 136" y="0" transform="matrix(1 0 0 1.075 0 251)" font-size="13" fill="#0c0c78">TEX</text><text x="145" y="251" font-size="13" fill="#0c0c78">2</text>
<rect x="156" y="246" width="793" height="1" fill="#0c0c78"/>
<path d="M159.5,243.5L156.5,246.5L159.5,249.5M167.5,243.5L164.5,246.5L167.5,249.5M175.5,243.5L172.5,246.5L175.5,249.5M183.5,243.5L180.5,246.5L183.5,249.5M191.5,243.5L188.5,246.5L191.5,249.5M199.5,243.5L196.5,246.5L199.5,249.5M207.5,243.5L204.5,246.5L207.5,249.5M215.5,243.5L212.5,246.5L215.5,249.5M223.5,243.5L220.5,246.5L223.5,249.5M231.5,243.5L228.5,246.5L231.5,249.5M239.5,243.5L236.5,246.5L239.5,249.5M247.5,243.5L244.5,246.5L247.5,249.5M255.5,243.5L252.5,246.5L255.5,249.5M263.5,243.5L260.5,246.5L263.5,249.5M271.5,243.5L268.5,246.5L271.5,249.5M279.5,243.5L276.5,246.5L279.5,249.5M287.5,243.5L284.5,246.5L287.5,249.5M295.5,243.5L292.5,246.5L295.5,249.5M303.5,243.5L300.5,246.5L303.5,249.5M311.5,243.5L308.5,246.5L311.5,249.5M319.5,243.5L316.5,246.5L319.5,249.5M327.5,243.5L324.5,246.5L327.5,249.5M335.5,243.5L332.5,246.5L335.5,249.5M343.5,243.5L340.5,246.5L343.5,249.5M351.5,243.5L348.5,246.5L351.5,249.5M359.5,243.5L356.5,246.5L359.5,249.5M367.5,243.5L364.5,246.5L367.5,249.5M375.5,243.5L372.5,246.5L375.5,249.5M383.5,243.5L380.5,246.5L383.5,249.5M391.5,243.5L388.5,246.5L391.5,249.5M399.5,243.5L396.5,246.5L399.5,249.5M407.5,243.5L404.5,246.5L407.5,249.5M415.5,243.5L412.5,246.5L415.5,249.5M423.5,243.5L420.5,246.5L423.5,249.5M431.5,243.5L428.5,246.5L431.5,249.5M439.5,243.5L436.5,246.5L439.5,249.5M447.5,243.5L444.5,246.5L447.5,249.5M455.5,243.5L452.5,246.5L455.5,249.5M463.5,243.5L460.5,246.5L463.5,249.5M471.5,243.5L468.5,246.5L471.5,249.5M479.5,243.5L476.5,246.5L479.5,249.5M487.5,243.5L484.5,246.5L487.5,249.5M495.5,243.5L492.5,246.5L495.5,249.5M503.5,243.5L500.5,246.5L503.5,249.5M511.5,243.5L508.5,246.5L511.5,249.5M519.5,243.5L516.5,246.5L519.5,249.5M527.5,243.5L524.5,246.5L527.5,249.5M535.5,243.5L532.5,246.5L535.5,249.5M543.5,243.5L540.5,246.5L543.5,249.5M551.5,243.5L548.5,246.5L551.5,249.5M559.5,243.5L556.5,246.5L559.5,249.5M567.5,243.5L564.5,246.5L567.5,249.5M575.5,243.5L572.5,246.5L575.5,249.5M583.5,243.5L580.5,246.5L583.5,249.5M591.5,243.5L588.5,246.5L591.5,249.5M599.5,243.5L596.5,246.5L599.5,249.5M607.5,243.5L604.5,246.5L607.5,249.5M615.5,243.5L612.5,246.5L615.5,249.5M623.5,243.5L620.5,246.5L623.5,249.5M631.5,243.5L628.5,246.5L631.5,249.5M639.5,243.5L636.5,246.5L639.5,249.5M647.5,243.5L644.5,246.5L647.5,249.5M655.5,243.5L652.5,246.5L655.5,249.5M663.5,243.5L660.5,246.5L663.5,249.5M671.5,243.5L668.5,246.5L671.5,249.5M679.5,243.5L676.5,246.5L679.5,249.5M687.5,243.5L684.5,246.5L687.5,249.5M695.5,243.5L692.5,246.5L695.5,249.5M703.5,243.5L700.5,246.5L703.5,249.5M711.5,243.5L708.5,246.5L711.5,249.5M719.5,243.5L716.5,246.5L719.5,249.5M727.5,243.5L724.5,246.5L727.5,249.5M735.5,243.5L732.5,246.5L735.5,249.5M743.5,243.5L740.5,246.5L743.5,249.5M751.5,243.5L748.5,246.5L751.5,249.5M759.5,243.5L756.5,246.5L759.5,249.5M767.5,243.5L764.5,246.5L767.5,249.5M775.5,243.5L772.5,246.5L775.5,249.5M783.5,243.5L780.5,246.5L783.5,249.5M791.5,243.5L788.5,246.5L791.5,249.5M799.5,243.5L796.5,246.5L799.5,249.5M807.5,243.5L804.5,246.5L807.5,249.5M815.5,243.5L812.5,246.5L815.5,249.5M823.5,243.5L820.5,246.5L823.5,249.5M831.5,243.5L828.5,246.5L831.5,249.5M839.5,243.5L836.5,246.5L839.5,249.5M847.5,243.5L844.5,246.5L847.5,249.5M855.5,243.5L852.5,246.5L855.5,249.5M863.5,243.5L860.5,246.5L863.5,249.5M871.5,243.5L868.5,246.5L871.5,249.5M879.5,243.5L876.5,246.5L879.5,249.5M887.5,243.5L884.5,246.5L887.5,249.5M895.5,243.5L892.5,246.5L895.5,249.5M903.5,243.5L900.5,246.5L903.5,249.5M911.5,243.5L908.5,246.5L911.5,249.5M919.5,243.5L916.5,246.5L919.5,249.5M927.5,243.5L924.5,246.5L927.5,249.5M935.5,243.5L932.5,246.5L935.5,249.5M943.5,243.5L940.5,246.5L943.5,249.5" stroke="#0c0c78" stroke-width="1" fill="none"/>
<text x="119 127 136" y="0" transform="matrix(1 0 0 1.075 0 267)" font-size="13" fill="#0c0c78">TEX</text><text x="145" y="267" font-size="13" fill="#0c0c78">2</text>
<rect x="156" y="262" width="793" height="1" fill="#0c0c78"/>
<path d="M159.5,259.5L156.5,262.5L159.5,265.5M167.5,259.5L164.5,262.5L167.5,265.5M175.5,259.5L172.5,262.5L175.5,265.5M183.5,259.5L180.5,262.5L183.5,265.5M191.5,259.5L188.5,262.5L191.5,265.5M199.5,259.5L196.5,262.5L199.5,265.5M207.5,259.5L204.5,262.5L207.5,265.5M215.5,259.5L212.5,262.5L215.5,265.5M223.5,259.5L220.5,262.5L223.5,265.5M231.5,259.5L228.5,262.5L231.5,265.5M239.5,259.5L236.5,262.5L239.5,265.5M247.5,259.5L244.5,262.5L247.5,265.5M255.5,259.5L252.5,262.5L255.5,265.5M263.5,259.5L260.5,262.5L263.5,265.5M271.5,259.5L268.5,262.5L271.5,265.5M279.5,259.5L276.5,262.5L279.5,265.5M287.5,259.5L284.5,262.5L287.5,265.5M295.5,259.5L292.5,262.5L295.5,265.5M303.5,259.5L300.5,262.5L303.5,265.5M311.5,259.5L308.5,262.5L311.5,265.5M319.5,259.5L316.5,262.5L319.5,265.5M327.5,259.5L324.5,262.5L327.5,265.5M335.5,259.5L332.5,262.5L335.5,265.5M343.5,259.5L340.5,262.5L343.5,265.5M351.5,259.5L348.5,262.5L351.5,265.5M359.5,259.5L356.5,262.5L359.5,265.5M367.5,259.5L364.5,262.5L367.5,265.5M375.5,259.5L372.5,262.5L375.5,265.5M383.5,259.5L380.5,262.5L383.5,265.5M391.5,259.5L388.5,262.5L391.5,265.5M399.5,259.5L396.5,262.5L399.5,265.5M407.5,259.5L404.5,262.5L407.5,265.5M415.5,259.5L412.5,262.5L415.5,265.5M423.5,259.5L420.5,262.5L423.5,265.5M431.5,259.5L428.5,262.5L431.5,265.5M439.5,259.5L436.5,262.5L439.5,265.5M447.5,259.5L444.5,262.5L447.5,265.5M455.5,259.5L452.5,262.5L455.5,265.5M463.5,259.5L460.5,262.5L463.5,265.5M471.5,259.5L468.5,262.5L471.5,265.5M479.5,259.5L476.5,262.5L479.5,265.5M487.5,259.5L484.5,262.5L487.5,265.5M495.5,259.5L492.5,262.5L495.5,265.5M503.5,259.5L500.5,262.5L503.5,265.5M511.5,259.5L508.5,262.5L511.5,265.5M519.5,259.5L516.5,262.5L519.5,265.5M527.5,259.5L524.5,262.5L527.5,265.5M535.5,259.5L532.5,262.5L535.5,265.5M543.5,259.5L540.5,262.5L543.5,265.5M551.5,259.5L548.5,262.5L551.5,265.5M559.5,259.5L556.5,262.5L559.5,265.5M567.5,259.5L564.5,262.5L567.5,265.5M575.5,259.5L572.5,262.5L575.5,265.5M583.5,259.5L580.5,262.5L583.5,265.5M591.5,259.5L588.5,262.5L591.5,265.5M599.5,259.5L596.5,262.5L599.5,265.5M607.5,259.5L604.5,262.5L607.5,265.5M615.5,259.5L612.5,262.5L615.5,265.5M623.5,259.5L620.5,262.5L623.5,265.5M631.5,259.5L628.5,262.5L631.5,265.5M639.5,259.5L636.5,262.5L639.5,265.5M647.5,259.5L644.5,262.5L647.5,265.5M655.5,259.5L652.5,262.5L655.5,265.5M663.5,259.5L660.5,262.5L663.5,265.5M671.5,259.5L668.5,262.5L671.5,265.5M679.5,259.5L676.5,262.5L679.5,265.5M687.5,259.5L684.5,262.5L687.5,265.5M695.5,259.5L692.5,262.5L695.5,265.5M703.5,259.5L700.5,262.5L703.5,265.5M711.5,259.5L708.5,262.5L711.5,265.5M719.5,259.5L716.5,262.5L719.5,265.5M727.5,259.5L724.5,262.5L727.5,265.5M735.5,259.5L732.5,262.5L735.5,265.5M743.5,259.5L740.5,262.5L743.5,265.5M751.5,259.5L748.5,262.5L751.5,265.5M759.5,259.5L756.5,262.5L759.5,265.5M767.5,259.5L764.5,262.5L767.5,265.5M775.5,259.5L772.5,262.5L775.5,265.5M783.5,259.5L780.5,262.5L783.5,265.5M791.5,259.5L788.5,262.5L791.5,265.5M799.5,259.5L796.5,262.5L799.5,265.5M807.5,259.5L804.5,262.5L807.5,265.5M815.5,259.5L812.5,262.5L815.5,265.5M823.5,259.5L820.5,262.5L823.5,265.5M831.5,259.5L828.5,262.5L831.5,265.5M839.5,259.5L836.5,262.5L839.5,265.5M847.5,259.5L844.5,262.5L847.5,265.5M855.5,259.5L852.5,262.5L855.5,265.5M863.5,259.5L860.5,262.5L863.5,265.5M871.5,259.5L868.5,262.5L871.5,265.5M879.5,259.5L876.5,262.5L879.5,265.5M887.5,259.5L884.5,262.5L887.5,265.5M895.5,259.5L892.5,262.5L895.5,265.5M903.5,259.5L900.5,262.5L903.5,265.5M911.5,259.5L908.5,262.5L911.5,265.5M919.5,259.5L916.5,262.5L919.5,265.5M927.5,259.5L924.5,262.5L927.5,265.5M935.5,259.5L932.5,262.5L935.5,265.5M943.5,259.5L940.5,262.5L943.5,265.5" stroke="#0c0c78" stroke-width="1" fill="none"/>
<text x="119 127 136" y="0" transform="matrix(1 0 0 1.075 0 283)" font-size="13" fill="#0c0c78">TEX</text><text x="145" y="283" font-size="13" fill="#0c0c78">2</text>
<rect x="156" y="278" width="793" height="1" fill="#0c0c78"/>
<path d="M159.5,275.5L156.5,278.5L159.5,281.5M167.5,275.5L164.5,278.5L167.5,281.5M175.5,275.5L172.5,278.5L175.5,281.5M183.5,275.5L180.5,278.5L183.5,281.5M191.5,275.5L188.5,278.5L191.5,281.5M199.5,275.5L196.5,278.5L199.5,281.5M207.5,275.5L204.5,278.5L207.5,281.5M215.5,275.5L212.5,278.5L215.5,281.5M223.5,275.5L220.5,278.5L223.5,281.5M231.5,275.5L228.5,278.5L231.5,281.5M239.5,275.5L236.5,278.5L239.5,281.5M247.5,275.5L244.5,278.5L247.5,281.5M255.5,275.5L252.5,278.5L255.5,281.5M263.5,275.5L260.5,278.5L263.5,281.5M271.5,275.5L268.5,278.5L271.5,281.5M279.5,275.5L276.5,278.5L279.5,281.5M287.5,275.5L284.5,278.5L287.5,281.5M295.5,275.5L292.5,278.5L295.5,281.5M303.5,275.5L300.5,278.5L303.5,281.5M311.5,275.5L308.5,278.5L311.5,281.5M319.5,275.5L316.5,278.5L319.5,281.5M327.5,275.5L324.5,278.5L327.5,281.5M335.5,275.5L332.5,278.5L335.5,281.5M343.5,275.5L340.5,278.5L343.5,281.5M351.5,275.5L348.5,278.5L351.5,281.5M359.5,275.5L356.5,278.5L359.5,281.5M367.5,275.5L364.5,278.5L367.5,281.5M375.5,275.5L372.5,278.5L375.5,281.5M383.5,275.5L380.5,278.5L383.5,281.5M391.5,275.5L388.5,278.5L391.5,281.5M399.5,275.5L396.5,278.5L399.5,281.5M407.5,275.5L404.5,278.5L407.5,281.5M415.5,275.5L412.5,278.5L415.5,281.5M423.5,275.5L420.5,278.5L423.5,281.5M431.5,275.5L428.5,278.5L431.5,281.5M439.5,275.5L436.5,278.5L439.5,281.5M447.5,275.5L444.5,278.5L447.5,281.5M455.5,275.5L452.5,278.5L455.5,281.5M463.5,275.5L460.5,278.5L463.5,281.5M471.5,275.5L468.5,278.5L471.5,281.5M479.5,275.5L476.5,278.5L479.5,281.5M487.5,275.5L484.5,278.5L487.5,281.5M495.5,275.5L492.5,278.5L495.5,281.5M503.5,275.5L500.5,278.5L503.5,281.5M511.5,275.5L508.5,278.5L511.5,281.5M519.5,275.5L516.5,278.5L519.5,281.5M527.5,275.5L524.5,278.5L527.5,281.5M535.5,275.5L532.5,278.5L535.5,281.5M543.5,275.5L540.5,278.5L543.5,281.5M551.5,275.5L548.5,278.5L551.5,281.5M559.5,275.5L556.5,278.5L559.5,281.5M567.5,275.5L564.5,278.5L567.5,281.5M575.5,275.5L572.5,278.5L575.5,281.5M583.5,275.5L580.5,278.5L583.5,281.5M591.5,275.5L588.5,278.5L591.5,281.5M599.5,275.5L596.5,278.5L599.5,281.5M607.5,275.5L604.5,278.5L607.5,281.5M615.5,275.5L612.5,278.5L615.5,281.5M623.5,275.5L620.5,278.5L623.5,281.5M631.5,275.5L628.5,278.5L631.5,281.5M639.5,275.5L636.5,278.5L639.5,281.5M647.5,275.5L644.5,278.5L647.5,281.5M655.5,275.5L652.5,278.5L655.5,281.5M663.5,275.5L660.5,278.5L663.5,281.5M671.5,275.5L668.5,278.5L671.5,281.5M679.5,275.5L676.5,278.5L679.5,281.5M687.5,275.5L684.5,278.5L687.5,281.5M695.5,275.5L692.5,278.5L695.5,281.5M703.5,275.5L700.5,278.5L703.5,281.5M711.5,275.5L708.5,278.5L711.5,281.5M719.5,275.5L716.5,278.5L719.5,281.5M727.5,275.5L724.5,278.5L727.5,281.5M735.5,275.5L732.5,278.5L735.5,281.5M743.5,275.5L740.5,278.5L743.5,281.5M751.5,275.5L748.5,278.5L751.5,281.5M759.5,275.5L756.5,278.5L759.5,281.5M767.5,275.5L764.5,278.5L767.5,281.5M775.5,275.5L772.5,278.5L775.5,281.5M783.5,275.5L780.5,278.5L783.5,281.5M791.5,275.5L788.5,278.5L791.5,281.5M799.5,275.5L796.5,278.5L799.5,281.5M807.5,275.5L804.5,278.5L807.5,281.5M815.5,275.5L812.5,278.5L815.5,281.5M823.5,275.5L820.5,278.5L823.5,281.5M831.5,275.5L828.5,278.5L831.5,281.5M839.5,275.5L836.5,278.5L839.5,281.5M847.5,275.5L844.5,278.5L847.5,281.5M855.5,275.5L852.5,278.5L855.5,281.5M863.5,275.5L860.5,278.5L863.5,281.5M871.5,275.5L868.5,278.5L871.5,281.5M879.5,275.5L876.5,278.5L879.5,281.5M887.5,275.5L884.5,278.5L887.5,281.5M895.5,275.5L892.5,278.5L895.5,281.5M903.5,275.5L900.5,278.5L903.5,281.5M911.5,275.5L908.5,278.5L911.5,281.5M919.5,275.5L916.5,278.5L919.5,281.5M927.5,275.5L924.5,278.5L927.5,281.5M935.5,275.5L932.5,278.5L935.5,281.5M943.5,275.5L940.5,278.5L943.5,281.5" stroke="#0c0c78" stroke-width="1" fill="none"/>
<text x="119 127 136" y="0" transform="matrix(1 0 0 1.075 0 299)" font-size="13" fill="#0c0c78">TEX</text><text x="145" y="299" font-size="13" fill="#0c0c78">2</text>
<rect x="156" y="294" width="793" height="1" fill="#0c0c78"/>
<path d="M159.5,291.5L156.5,294.5L159.5,297.5M167.5,291.5L164.5,294.5L167.5,297.5M175.5,291.5L172.5,294.5L175.5,297.5M183.5,291.5L180.5,294.5L183.5,297.5M191.5,291.5L188.5,294.5L191.5,297.5M199.5,291.5L196.5,294.5L199.5,297.5M207.5,291.5L204.5,294.5L207.5,297.5M215.5,291.5L212.5,294.5L215.5,297.5M223.5,291.5L220.5,294.5L223.5,297.5M231.5,291.5L228.5,294.5L231.5,297.5M239.5,291.5L236.5,294.5L239.5,297.5M247.5,291.5L244.5,294.5L247.5,297.5M255.5,291.5L252.5,294.5L255.5,297.5M263.5,291.5L260.5,294.5L263.5,297.5M271.5,291.5L268.5,294.5L271.5,297.5M279.5,291.5L276.5,294.5L279.5,297.5M287.5,291.5L284.5,294.5L287.5,297.5M295.5,291.5L292.5,294.5L295.5,297.5M303.5,291.5L300.5,294.5L303.5,297.5M311.5,291.5L308.5,294.5L311.5,297.5M319.5,291.5L316.5,294.5L319.5,297.5M327.5,291.5L324.5,294.5L327.5,297.5M335.5,291.5L332.5,294.5L335.5,297.5M343.5,291.5L340.5,294.5L343.5,297.5M351.5,291.5L348.5,294.5L351.5,297.5M359.5,291.5L356.5,294.5L359.5,297.5M367.5,291.5L364.5,294.5L367.5,297.5M375.5,291.5L372.5,294.5L375.5,297.5M383.5,291.5L380.5,294.5L383.5,297.5M391.5,291.5L388.5,294.5L391.5,297.5M399.5,291.5L396.5,294.5L399.5,297.5M407.5,291.5L404.5,294.5L407.5,297.5M415.5,291.5L412.5,294.5L415.5,297.5M423.5,291.5L420.5,294.5L423.5,297.5M431.5,291.5L428.5,294.5L431.5,297.5M439.5,291.5L436.5,294.5L439.5,297.5M447.5,291.5L444.5,294.5L447.5,297.5M455.5,291.5L452.5,294.5L455.5,297.5M463.5,291.5L460.5,294.5L463.5,297.5M471.5,291.5L468.5,294.5L471.5,297.5M479.5,291.5L476.5,294.5L479.5,297.5M487.5,291.5L484.5,294.5L487.5,297.5M495.5,291.5L492.5,294.5L495.5,297.5M503.5,291.5L500.5,294.5L503.5,297.5M511.5,291.5L508.5,294.5L511.5,297.5M519.5,291.5L516.5,294.5L519.5,297.5M527.5,291.5L524.5,294.5L527.5,297.5M535.5,291.5L532.5,294.5L535.5,297.5M543.5,291.5L540.5,294.5L543.5,297.5M551.5,291.5L548.5,294.5L551.5,297.5M559.5,291.5L556.5,294.5L559.5,297.5M567.5,291.5L564.5,294.5L567.5,297.5M575.5,291.5L572.5,294.5L575.5,297.5M583.5,291.5L580.5,294.5L583.5,297.5M591.5,291.5L588.5,294.5L591.5,297.5M599.5,291.5L596.5,294.5L599.5,297.5M607.5,291.5L604.5,294.5L607.5,297.5M615.5,291.5L612.5,294.5L615.5,297.5M623.5,291.5L620.5,294.5L623.5,297.5M631.5,291.5L628.5,294.5L631.5,297.5M639.5,291.5L636.5,294.5L639.5,297.5M647.5,291.5L644.5,294.5L647.5,297.5M655.5,291.5L652.5,294.5L655.5,297.5M663.5,291.5L660.5,294.5L663.5,297.5M671.5,291.5L668.5,294.5L671.5,297.5M679.5,291.5L676.5,294.5L679.5,297.5M687.5,291.5L684.5,294.5L687.5,297.5M695.5,291.5L692.5,294.5L695.5,297.5M703.5,291.5L700.5,294.5L703.5,297.5M711.5,291.5L708.5,294.5L711.5,297.5M719.5,291.5L716.5,294.5L719.5,297.5M727.5,291.5L724.5,294.5L727.5,297.5M735.5,291.5L732.5,294.5L735.5,297.5M743.5,291.5L740.5,294.5L743.5,297.5M751.5,291.5L748.5,294.5L751.5,297.5M759.5,291.5L756.5,294.5L759.5,297.5M767.5,291.5L764.5,294.5L767.5,297.5M775.5,291.5L772.5,294.5L775.5,297.5M783.5,291.5L780.5,294.5L783.5,297.5M791.5,291.5L788.5,294.5L791.5,297.5M799.5,291.5L796.5,294.5L799.5,297.5M807.5,291.5L804.5,294.5L807.5,297.5M815.5,291.5L812.5,294.5L815.5,297.5M823.5,291.5L820.5,294.5L823.5,297.5M831.5,291.5L828.5,294.5L831.5,297.5M839.5,291.5L836.5,294.5L839.5,297.5M847.5,291.5L844.5,294.5L847.5,297.5M855.5,291.5L852.5,294.5L855.5,297.5M863.5,291.5L860.5,294.5L863.5,297.5M871.5,291.5L868.5,294.5L871.5,297.5M879.5,291.5L876.5,294.5L879.5,297.5M887.5,291.5L884.5,294.5L887.5,297.5M895.5,291.5L892.5,294.5L895.5,297.5M903.5,291.5L900.5,294.5L903.5,297.5M911.5,291.5L908.5,294.5L911.5,297.5M919.5,291.5L916.5,294.5L919.5,297.5M927.5,291.5L924.5,294.5L927.5,297.5M935.5,291.5L932.5,294.5L935.5,297.5M943.5,291.5L940.5,294.5L943.5,297.5" stroke="#0c0c78" stroke-width="1" fill="none"/>
<text x="119 127 136" y="0" transform="matrix(1 0 0 1.075 0 315)" font-size="13" fill="#0c0c78">TEX</text><text x="145" y="315" font-size="13" fill="#0c0c78">2</text>
<rect x="156" y="310" width="793" height="1" fill="#0c0c78"/>
<path d="M159.5,307.5L156.5,310.5L159.5,313.5M167.5,307.5L164.5,310.5L167.5,313.5M175.5,307.5L172.5,310.5L175.5,313.5M183.5,307.5L180.5,310.5L183.5,313.5M191.5,307.5L188.5,310.5L191.5,313.5M199.5,307.5L196.5,310.5L199.5,313.5M207.5,307.5L204.5,310.5L207.5,313.5M215.5,307.5L212.5,310.5L215.5,313.5M223.5,307.5L220.5,310.5L223.5,313.5M231.5,307.5L228.5,310.5L231.5,313.5M239.5,307.5L236.5,310.5L239.5,313.5M247.5,307.5L244.5,310.5L247.5,313.5M255.5,307.5L252.5,310.5L255.5,313.5M263.5,307.5L260.5,310.5L263.5,313.5M271.5,307.5L268.5,310.5L271.5,313.5M279.5,307.5L276.5,310.5L279.5,313.5M287.5,307.5L284.5,310.5L287.5,313.5M295.5,307.5L292.5,310.5L295.5,313.5M303.5,307.5L300.5,310.5L303.5,313.5M311.5,307.5L308.5,310.5L311.5,313.5M319.5,307.5L316.5,310.5L319.5,313.5M327.5,307.5L324.5,310.5L327.5,313.5M335.5,307.5L332.5,310.5L335.5,313.5M343.5,307.5L340.5,310.5L343.5,313.5M351.5,307.5L348.5,310.5L351.5,313.5M359.5,307.5L356.5,310.5L359.5,313.5M367.5,307.5L364.5,310.5L367.5,313.5M375.5,307.5L372.5,310.5L375.5,313.5M383.5,307.5L380.5,310.5L383.5,313.5M391.5,307.5L388.5,310.5L391.5,313.5M399.5,307.5L396.5,310.5L399.5,313.5M407.5,307.5L404.5,310.5L407.5,313.5M415.5,307.5L412.5,310.5L415.5,313.5M423.5,307.5L420.5,310.5L423.5,313.5M431.5,307.5L428.5,310.5L431.5,313.5M439.5,307.5L436.5,310.5L439.5,313.5M447.5,307.5L444.5,310.5L447.5,313.5M455.5,307.5L452.5,310.5L455.5,313.5M463.5,307.5L460.5,310.5L463.5,313.5M471.5,307.5L468.5,310.5L471.5,313.5M479.5,307.5L476.5,310.5L479.5,313.5M487.5,307.5L484.5,310.5L487.5,313.5M495.5,307.5L492.5,310.5L495.5,313.5M503.5,307.5L500.5,310.5L503.5,313.5M511.5,307.5L508.5,310.5L511.5,313.5M519.5,307.5L516.5,310.5L519.5,313.5M527.5,307.5L524.5,310.5L527.5,313.5M535.5,307.5L532.5,310.5L535.5,313.5M543.5,307.5L540.5,310.5L543.5,313.5M551.5,307.5L548.5,310.5L551.5,313.5M559.5,307.5L556.5,310.5L559.5,313.5M567.5,307.5L564.5,310.5L567.5,313.5M575.5,307.5L572.5,310.5L575.5,313.5M583.5,307.5L580.5,310.5L583.5,313.5M591.5,307.5L588.5,310.5L591.5,313.5M599.5,307.5L596.5,310.5L599.5,313.5M607.5,307.5L604.5,310.5L607.5,313.5M615.5,307.5L612.5,310.5L615.5,313.5M623.5,307.5L620.5,310.5L623.5,313.5M631.5,307.5L628.5,310.5L631.5,313.5M639.5,307.5L636.5,310.5L639.5,313.5M647.5,307.5L644.5,310.5L647.5,313.5M655.5,307.5L652.5,310.5L655.5,313.5M663.5,307.5L660.5,310.5L663.5,313.5M671.5,307.5L668.5,310.5L671.5,313.5M679.5,307.5L676.5,310.5L679.5,313.5M687.5,307.5L684.5,310.5L687.5,313.5M695.5,307.5L692.5,310.5L695.5,313.5M703.5,307.5L700.5,310.5L703.5,313.5M711.5,307.5L708.5,310.5L711.5,313.5M719.5,307.5L716.5,310.5L719.5,313.5M727.5,307.5L724.5,310.5L727.5,313.5M735.5,307.5L732.5,310.5L735.5,313.5M743.5,307.5L740.5,310.5L743.5,313.5M751.5,307.5L748.5,310.5L751.5,313.5M759.5,307.5L756.5,310.5L759.5,313.5M767.5,307.5L764.5,310.5L767.5,313.5M775.5,307.5L772.5,310.5L775.5,313.5M783.5,307.5L780.5,310.5L783.5,313.5M791.5,307.5L788.5,310.5L791.5,313.5M799.5,307.5L796.5,310.5L799.5,313.5M807.5,307.5L804.5,310.5L807.5,313.5M815.5,307.5L812.5,310.5L815.5,313.5M823.5,307.5L820.5,310.5L823.5,313.5M831.5,307.5L828.5,310.5L831.5,313.5M839.5,307.5L836.5,310.5L839.5,313.5M847.5,307.5L844.5,310.5L847.5,313.5M855.5,307.5L852.5,310.5L855.5,313.5M863.5,307.5L860.5,310.5L863.5,313.5M871.5,307.5L868.5,310.5L871.5,313.5M879.5,307.5L876.5,310.5L879.5,313.5M887.5,307.5L884.5,310.5L887.5,313.5M895.5,307.5L892.5,310.5L895.5,313.5M903.5,307.5L900.5,310.5L903.5,313.5M911.5,307.5L908.5,310.5L911.5,313.5M919.5,307.5L916.5,310.5L919.5,313.5M927.5,307.5L924.5,310.5L927.5,313.5M935.5,307.5L932.5,310.5L935.5,313.5M943.5,307.5L940.5,310.5L943.5,313.5" stroke="#0c0c78" stroke-width="1" fill="none"/>
<text x="119 127 136" y="0" transform="matrix(1 0 0 1.075 0 331)" font-size="13" fill="#0c0c78">TEX</text><text x="145" y="331" font-size="13" fill="#0c0c78">2</text>
<rect x="156" y="326" width="793" height="1" fill="#0c0c78"/>
<path d="M159.5,323.5L156.5,326.5L159.5,329.5M167.5,323.5L164.5,326.5L167.5,329.5M175.5,323.5L172.5,326.5L175.5,329.5M183.5,323.5L180.5,326.5L183.5,329.5M191.5,323.5L188.5,326.5L191.5,329.5M199.5,323.5L196.5,326.5L199.5,329.5M207.5,323.5L204.5,326.5L207.5,329.5M215.5,323.5L212.5,326.5L215.5,329.5M223.5,323.5L220.5,326.5L223.5,329.5M231.5,323.5L228.5,326.5L231.5,329.5M239.5,323.5L236.5,326.5L239.5,329.5M247.5,323.5L244.5,326.5L247.5,329.5M255.5,323.5L252.5,326.5L255.5,329.5M263.5,323.5L260.5,326.5L263.5,329.5M271.5,323.5L268.5,326.5L271.5,329.5M279.5,323.5L276.5,326.5L279.5,329.5M287.5,323.5L284.5,326.5L287.5,329.5M295.5,323.5L292.5,326.5L295.5,329.5M303.5,323.5L300.5,326.5L303.5,329.5M311.5,323.5L308.5,326.5L311.5,329.5M319.5,323.5L316.5,326.5L319.5,329.5M327.5,323.5L324.5,326.5L327.5,329.5M335.5,323.5L332.5,326.5L335.5,329.5M343.5,323.5L340.5,326.5L343.5,329.5M351.5,323.5L348.5,326.5L351.5,329.5M359.5,323.5L356.5,326.5L359.5,329.5M367.5,323.5L364.5,326.5L367.5,329.5M375.5,323.5L372.5,326.5L375.5,329.5M383.5,323.5L380.5,326.5L383.5,329.5M391.5,323.5L388.5,326.5L391.5,329.5M399.5,323.5L396.5,326.5L399.5,329.5M407.5,323.5L404.5,326.5L407.5,329.5M415.5,323.5L412.5,326.5L415.5,329.5M423.5,323.5L420.5,326.5L423.5,329.5M431.5,323.5L428.5,326.5L431.5,329.5M439.5,323.5L436.5,326.5L439.5,329.5M447.5,323.5L444.5,326.5L447.5,329.5M455.5,323.5L452.5,326.5L455.5,329.5M463.5,323.5L460.5,326.5L463.5,329.5M471.5,323.5L468.5,326.5L471.5,329.5M479.5,323.5L476.5,326.5L479.5,329.5M487.5,323.5L484.5,326.5L487.5,329.5M495.5,323.5L492.5,326.5L495.5,329.5M503.5,323.5L500.5,326.5L503.5,329.5M511.5,323.5L508.5,326.5L511.5,329.5M519.5,323.5L516.5,326.5L519.5,329.5M527.5,323.5L524.5,326.5L527.5,329.5M535.5,323.5L532.5,326.5L535.5,329.5M543.5,323.5L540.5,326.5L543.5,329.5M551.5,323.5L548.5,326.5L551.5,329.5M559.5,323.5L556.5,326.5L559.5,329.5M567.5,323.5L564.5,326.5L567.5,329.5M575.5,323.5L572.5,326.5L575.5,329.5M583.5,323.5L580.5,326.5L583.5,329.5M591.5,323.5L588.5,326.5L591.5,329.5M599.5,323.5L596.5,326.5L599.5,329.5M607.5,323.5L604.5,326.5L607.5,329.5M615.5,323.5L612.5,326.5L615.5,329.5M623.5,323.5L620.5,326.5L623.5,329.5M631.5,323.5L628.5,326.5L631.5,329.5M639.5,323.5L636.5,326.5L639.5,329.5M647.5,323.5L644.5,326.5L647.5,329.5M655.5,323.5L652.5,326.5L655.5,329.5M663.5,323.5L660.5,326.5L663.5,329.5M671.5,323.5L668.5,326.5L671.5,329.5M679.5,323.5L676.5,326.5L679.5,329.5M687.5,323.5L684.5,326.5L687.5,329.5M695.5,323.5L692.5,326.5L695.5,329.5M703.5,323.5L700.5,326.5L703.5,329.5M711.5,323.5L708.5,326.5L711.5,329.5M719.5,323.5L716.5,326.5L719.5,329.5M727.5,323.5L724.5,326.5L727.5,329.5M735.5,323.5L732.5,326.5L735.5,329.5M743.5,323.5L740.5,326.5L743.5,329.5M751.5,323.5L748.5,326.5L751.5,329.5M759.5,323.5L756.5,326.5L759.5,329.5M767.5,323.5L764.5,326.5L767.5,329.5M775.5,323.5L772.5,326.5L775.5,329.5M783.5,323.5L780.5,326.5L783.5,329.5M791.5,323.5L788.5,326.5L791.5,329.5M799.5,323.5L796.5,326.5L799.5,329.5M807.5,323.5L804.5,326.5L807.5,329.5M815.5,323.5L812.5,326.5L815.5,329.5M823.5,323.5L820.5,326.5L823.5,329.5M831.5,323.5L828.5,326.5L831.5,329.5M839.5,323.5L836.5,326.5L839.5,329.5M847.5,323.5L844.5,326.5L847.5,329.5M855.5,323.5L852.5,326.5L855.5,329.5M863.5,323.5L860.5,326.5L863.5,329.5M871.5,323.5L868.5,326.5L871.5,329.5M879.5,323.5L876.5,326.5L879.5,329.5M887.5,323.5L884.5,326.5L887.5,329.5M895.5,323.5L892.5,326.5L895.5,329.5M903.5,323.5L900.5,326.5L903.5,329.5M911.5,323.5L908.5,326.5L911.5,329.5M919.5,323.5L916.5,326.5L919.5,329.5M927.5,323.5L924.5,326.5L927.5,329.5M935.5,323.5L932.5,326.5L935.5,329.5M943.5,323.5L940.5,326.5L943.5,329.5" stroke="#0c0c78" stroke-width="1" fill="none"/>
<text x="119 127 136" y="0" transform="matrix(1 0 0 1.075 0 347)" font-size="13" fill="#0c0c78">TEX</text><text x="145" y="347" font-size="13" fill="#0c0c78">2</text>
<rect x="156" y="342" width="793" height="1" fill="#0c0c78"/>
<path d="M159.5,339.5L156.5,342.5L159.5,345.5M167.5,339.5L164.5,342.5L167.5,345.5M175.5,339.5L172.5,342.5L175.5,345.5M183.5,339.5L180.5,342.5L183.5,345.5M191.5,339.5L188.5,342.5L191.5,345.5M199.5,339.5L196.5,342.5L199.5,345.5M207.5,339.5L204.5,342.5L207.5,345.5M215.5,339.5L212.5,342.5L215.5,345.5M223.5,339.5L220.5,342.5L223.5,345.5M231.5,339.5L228.5,342.5L231.5,345.5M239.5,339.5L236.5,342.5L239.5,345.5M247.5,339.5L244.5,342.5L247.5,345.5M255.5,339.5L252.5,342.5L255.5,345.5M263.5,339.5L260.5,342.5L263.5,345.5M271.5,339.5L268.5,342.5L271.5,345.5M279.5,339.5L276.5,342.5L279.5,345.5M287.5,339.5L284.5,342.5L287.5,345.5M295.5,339.5L292.5,342.5L295.5,345.5M303.5,339.5L300.5,342.5L303.5,345.5M311.5,339.5L308.5,342.5L311.5,345.5M319.5,339.5L316.5,342.5L319.5,345.5M327.5,339.5L324.5,342.5L327.5,345.5M335.5,339.5L332.5,342.5L335.5,345.5M343.5,339.5L340.5,342.5L343.5,345.5M351.5,339.5L348.5,342.5L351.5,345.5M359.5,339.5L356.5,342.5L359.5,345.5M367.5,339.5L364.5,342.5L367.5,345.5M375.5,339.5L372.5,342.5L375.5,345.5M383.5,339.5L380.5,342.5L383.5,345.5M391.5,339.5L388.5,342.5L391.5,345.5M399.5,339.5L396.5,342.5L399.5,345.5M407.5,339.5L404.5,342.5L407.5,345.5M415.5,339.5L412.5,342.5L415.5,345.5M423.5,339.5L420.5,342.5L423.5,345.5M431.5,339.5L428.5,342.5L431.5,345.5M439.5,339.5L436.5,342.5L439.5,345.5M447.5,339.5L444.5,342.5L447.5,345.5M455.5,339.5L452.5,342.5L455.5,345.5M463.5,339.5L460.5,342.5L463.5,345.5M471.5,339.5L468.5,342.5L471.5,345.5M479.5,339.5L476.5,342.5L479.5,345.5M487.5,339.5L484.5,342.5L487.5,345.5M495.5,339.5L492.5,342.5L495.5,345.5M503.5,339.5L500.5,342.5L503.5,345.5M511.5,339.5L508.5,342.5L511.5,345.5M519.5,339.5L516.5,342.5L519.5,345.5M527.5,339.5L524.5,342.5L527.5,345.5M535.5,339.5L532.5,342.5L535.5,345.5M543.5,339.5L540.5,342.5L543.5,345.5M551.5,339.5L548.5,342.5L551.5,345.5M559.5,339.5L556.5,342.5L559.5,345.5M567.5,339.5L564.5,342.5L567.5,345.5M575.5,339.5L572.5,342.5L575.5,345.5M583.5,339.5L580.5,342.5L583.5,345.5M591.5,339.5L588.5,342.5L591.5,345.5M599.5,339.5L596.5,342.5L599.5,345.5M607.5,339.5L604.5,342.5L607.5,345.5M615.5,339.5L612.5,342.5L615.5,345.5M623.5,339.5L620.5,342.5L623.5,345.5M631.5,339.5L628.5,342.5L631.5,345.5M639.5,339.5L636.5,342.5L639.5,345.5M647.5,339.5L644.5,342.5L647.5,345.5M655.5,339.5L652.5,342.5L655.5,345.5M663.5,339.5L660.5,342.5L663.5,345.5M671.5,339.5L668.5,342.5L671.5,345.5M679.5,339.5L676.5,342.5L679.5,345.5M687.5,339.5L684.5,342.5L687.5,345.5M695.5,339.5L692.5,342.5L695.5,345.5M703.5,339.5L700.5,342.5L703.5,345.5M711.5,339.5L708.5,342.5L711.5,345.5M719.5,339.5L716.5,342.5L719.5,345.5M727.5,339.5L724.5,342.5L727.5,345.5M735.5,339.5L732.5,342.5L735.5,345.5M743.5,339.5L740.5,342.5L743.5,345.5M751.5,339.5L748.5,342.5L751.5,345.5M759.5,339.5L756.5,342.5L759.5,345.5M767.5,339.5L764.5,342.5L767.5,345.5M775.5,339.5L772.5,342.5L775.5,345.5M783.5,339.5L780.5,342.5L783.5,345.5M791.5,339.5L788.5,342.5L791.5,345.5M799.5,339.5L796.5,342.5L799.5,345.5M807.5,339.5L804.5,342.5L807.5,345.5M815.5,339.5L812.5,342.5L815.5,345.5M823.5,339.5L820.5,342.5L823.5,345.5M831.5,339.5L828.5,342.5L831.5,345.5M839.5,339.5L836.5,342.5L839.5,345.5M847.5,339.5L844.5,342.5L847.5,345.5M855.5,339.5L852.5,342.5L855.5,345.5M863.5,339.5L860.5,342.5L863.5,345.5M871.5,339.5L868.5,342.5L871.5,345.5M879.5,339.5L876.5,342.5L879.5,345.5M887.5,339.5L884.5,342.5L887.5,345.5M895.5,339.5L892.5,342.5L895.5,345.5M903.5,339.5L900.5,342.5L903.5,345.5M911.5,339.5L908.5,342.5L911.5,345.5M919.5,339.5L916.5,342.5L919.5,345.5M927.5,339.5L924.5,342.5L927.5,345.5M935.5,339.5L932.5,342.5L935.5,345.5M943.5,339.5L940.5,342.5L943.5,345.5" stroke="#0c0c78" stroke-width="1" fill="none"/>
<text x="119 127 136" y="0" transform="matrix(1 0 0 1.075 0 363)" font-size="13" fill="#0c0c78">TEX</text><text x="145" y="363" font-size="13" fill="#0c0c78">2</text>
<rect x="156" y="358" width="793" height="1" fill="#0c0c78"/>
<path d="M159.5,355.5L156.5,358.5L159.5,361.5M167.5,355.5L164.5,358.5L167.5,361.5M175.5,355.5L172.5,358.5L175.5,361.5M183.5,355.5L180.5,358.5L183.5,361.5M191.5,355.5L188.5,358.5L191.5,361.5M199.5,355.5L196.5,358.5L199.5,361.5M207.5,355.5L204.5,358.5L207.5,361.5M215.5,355.5L212.5,358.5L215.5,361.5M223.5,355.5L220.5,358.5L223.5,361.5M231.5,355.5L228.5,358.5L231.5,361.5M239.5,355.5L236.5,358.5L239.5,361.5M247.5,355.5L244.5,358.5L247.5,361.5M255.5,355.5L252.5,358.5L255.5,361.5M263.5,355.5L260.5,358.5L263.5,361.5M271.5,355.5L268.5,358.5L271.5,361.5M279.5,355.5L276.5,358.5L279.5,361.5M287.5,355.5L284.5,358.5L287.5,361.5M295.5,355.5L292.5,358.5L295.5,361.5M303.5,355.5L300.5,358.5L303.5,361.5M311.5,355.5L308.5,358.5L311.5,361.5M319.5,355.5L316.5,358.5L319.5,361.5M327.5,355.5L324.5,358.5L327.5,361.5M335.5,355.5L332.5,358.5L335.5,361.5M343.5,355.5L340.5,358.5L343.5,361.5M351.5,355.5L348.5,358.5L351.5,361.5M359.5,355.5L356.5,358.5L359.5,361.5M367.5,355.5L364.5,358.5L367.5,361.5M375.5,355.5L372.5,358.5L375.5,361.5M383.5,355.5L380.5,358.5L383.5,361.5M391.5,355.5L388.5,358.5L391.5,361.5M399.5,355.5L396.5,358.5L399.5,361.5M407.5,355.5L404.5,358.5L407.5,361.5M415.5,355.5L412.5,358.5L415.5,361.5M423.5,355.5L420.5,358.5L423.5,361.5M431.5,355.5L428.5,358.5L431.5,361.5M439.5,355.5L436.5,358.5L439.5,361.5M447.5,355.5L444.5,358.5L447.5,361.5M455.5,355.5L452.5,358.5L455.5,361.5M463.5,355.5L460.5,358.5L463.5,361.5M471.5,355.5L468.5,358.5L471.5,361.5M479.5,355.5L476.5,358.5L479.5,361.5M487.5,355.5L484.5,358.5L487.5,361.5M495.5,355.5L492.5,358.5L495.5,361.5M503.5,355.5L500.5,358.5L503.5,361.5M511.5,355.5L508.5,358.5L511.5,361.5M519.5,355.5L516.5,358.5L519.5,361.5M527.5,355.5L524.5,358.5L527.5,361.5M535.5,355.5L532.5,358.5L535.5,361.5M543.5,355.5L540.5,358.5L543.5,361.5M551.5,355.5L548.5,358.5L551.5,361.5M559.5,355.5L556.5,358.5L559.5,361.5M567.5,355.5L564.5,358.5L567.5,361.5M575.5,355.5L572.5,358.5L575.5,361.5M583.5,355.5L580.5,358.5L583.5,361.5M591.5,355.5L588.5,358.5L591.5,361.5M599.5,355.5L596.5,358.5L599.5,361.5M607.5,355.5L604.5,358.5L607.5,361.5M615.5,355.5L612.5,358.5L615.5,361.5M623.5,355.5L620.5,358.5L623.5,361.5M631.5,355.5L628.5,358.5L631.5,361.5M639.5,355.5L636.5,358.5L639.5,361.5M647.5,355.5L644.5,358.5L647.5,361.5M655.5,355.5L652.5,358.5L655.5,361.5M663.5,355.5L660.5,358.5L663.5,361.5M671.5,355.5L668.5,358.5L671.5,361.5M679.5,355.5L676.5,358.5L679.5,361.5M687.5,355.5L684.5,358.5L687.5,361.5M695.5,355.5L692.5,358.5L695.5,361.5M703.5,355.5L700.5,358.5L703.5,361.5M711.5,355.5L708.5,358.5L711.5,361.5M719.5,355.5L716.5,358.5L719.5,361.5M727.5,355.5L724.5,358.5L727.5,361.5M735.5,355.5L732.5,358.5L735.5,361.5M743.5,355.5L740.5,358.5L743.5,361.5M751.5,355.5L748.5,358.5L751.5,361.5M759.5,355.5L756.5,358.5L759.5,361.5M767.5,355.5L764.5,358.5L767.5,361.5M775.5,355.5L772.5,358.5L775.5,361.5M783.5,355.5L780.5,358.5L783.5,361.5M791.5,355.5L788.5,358.5L791.5,361.5M799.5,355.5L796.5,358.5L799.5,361.5M807.5,355.5L804.5,358.5L807.5,361.5M815.5,355.5L812.5,358.5L815.5,361.5M823.5,355.5L820.5,358.5L823.5,361.5M831.5,355.5L828.5,358.5L831.5,361.5M839.5,355.5L836.5,358.5L839.5,361.5M847.5,355.5L844.5,358.5L847.5,361.5M855.5,355.5L852.5,358.5L855.5,361.5M863.5,355.5L860.5,358.5L863.5,361.5M871.5,355.5L868.5,358.5L871.5,361.5M879.5,355.5L876.5,358.5L879.5,361.5M887.5,355.5L884.5,358.5L887.5,361.5M895.5,355.5L892.5,358.5L895.5,361.5M903.5,355.5L900.5,358.5L903.5,361.5M911.5,355.5L908.5,358.5L911.5,361.5M919.5,355.5L916.5,358.5L919.5,361.5M927.5,355.5L924.5,358.5L927.5,361.5M935.5,355.5L932.5,358.5L935.5,361.5M943.5,355.5L940.5,358.5L943.5,361.5" stroke="#0c0c78" stroke-width="1" fill="none"/>
<text x="119 127 136" y="0" transform="matrix(1 0 0 1.075 0 379)" font-size="13" fill="#0c0c78">TEX</text><text x="145" y="379" font-size="13" fill="#0c0c78">2</text>
<rect x="156" y="374" width="793" height="1" fill="#0c0c78"/>
<path d="M159.5,371.5L156.5,374.5L159.5,377.5M167.5,371.5L164.5,374.5L167.5,377.5M175.5,371.5L172.5,374.5L175.5,377.5M183.5,371.5L180.5,374.5L183.5,377.5M191.5,371.5L188.5,374.5L191.5,377.5M199.5,371.5L196.5,374.5L199.5,377.5M207.5,371.5L204.5,374.5L207.5,377.5M215.5,371.5L212.5,374.5L215.5,377.5M223.5,371.5L220.5,374.5L223.5,377.5M231.5,371.5L228.5,374.5L231.5,377.5M239.5,371.5L236.5,374.5L239.5,377.5M247.5,371.5L244.5,374.5L247.5,377.5M255.5,371.5L252.5,374.5L255.5,377.5M263.5,371.5L260.5,374.5L263.5,377.5M271.5,371.5L268.5,374.5L271.5,377.5M279.5,371.5L276.5,374.5L279.5,377.5M287.5,371.5L284.5,374.5L287.5,377.5M295.5,371.5L292.5,374.5L295.5,377.5M303.5,371.5L300.5,374.5L303.5,377.5M311.5,371.5L308.5,374.5L311.5,377.5M319.5,371.5L316.5,374.5L319.5,377.5M327.5,371.5L324.5,374.5L327.5,377.5M335.5,371.5L332.5,374.5L335.5,377.5M343.5,371.5L340.5,374.5L343.5,377.5M351.5,371.5L348.5,374.5L351.5,377.5M359.5,371.5L356.5,374.5L359.5,377.5M367.5,371.5L364.5,374.5L367.5,377.5M375.5,371.5L372.5,374.5L375.5,377.5M383.5,371.5L380.5,374.5L383.5,377.5M391.5,371.5L388.5,374.5L391.5,377.5M399.5,371.5L396.5,374.5L399.5,377.5M407.5,371.5L404.5,374.5L407.5,377.5M415.5,371.5L412.5,374.5L415.5,377.5M423.5,371.5L420.5,374.5L423.5,377.5M431.5,371.5L428.5,374.5L431.5,377.5M439.5,371.5L436.5,374.5L439.5,377.5M447.5,371.5L444.5,374.5L447.5,377.5M455.5,371.5L452.5,374.5L455.5,377.5M463.5,371.5L460.5,374.5L463.5,377.5M471.5,371.5L468.5,374.5L471.5,377.5M479.5,371.5L476.5,374.5L479.5,377.5M487.5,371.5L484.5,374.5L487.5,377.5M495.5,371.5L492.5,374.5L495.5,377.5M503.5,371.5L500.5,374.5L503.5,377.5M511.5,371.5L508.5,374.5L511.5,377.5M519.5,371.5L516.5,374.5L519.5,377.5M527.5,371.5L524.5,374.5L527.5,377.5M535.5,371.5L532.5,374.5L535.5,377.5M543.5,371.5L540.5,374.5L543.5,377.5M551.5,371.5L548.5,374.5L551.5,377.5M559.5,371.5L556.5,374.5L559.5,377.5M567.5,371.5L564.5,374.5L567.5,377.5M575.5,371.5L572.5,374.5L575.5,377.5M583.5,371.5L580.5,374.5L583.5,377.5M591.5,371.5L588.5,374.5L591.5,377.5M599.5,371.5L596.5,374.5L599.5,377.5M607.5,371.5L604.5,374.5L607.5,377.5M615.5,371.5L612.5,374.5L615.5,377.5M623.5,371.5L620.5,374.5L623.5,377.5M631.5,371.5L628.5,374.5L631.5,377.5M639.5,371.5L636.5,374.5L639.5,377.5M647.5,371.5L644.5,374.5L647.5,377.5M655.5,371.5L652.5,374.5L655.5,377.5M663.5,371.5L660.5,374.5L663.5,377.5M671.5,371.5L668.5,374.5L671.5,377.5M679.5,371.5L676.5,374.5L679.5,377.5M687.5,371.5L684.5,374.5L687.5,377.5M695.5,371.5L692.5,374.5L695.5,377.5M703.5,371.5L700.5,374.5L703.5,377.5M711.5,371.5L708.5,374.5L711.5,377.5M719.5,371.5L716.5,374.5L719.5,377.5M727.5,371.5L724.5,374.5L727.5,377.5M735.5,371.5L732.5,374.5L735.5,377.5M743.5,371.5L740.5,374.5L743.5,377.5M751.5,371.5L748.5,374.5L751.5,377.5M759.5,371.5L756.5,374.5L759.5,377.5M767.5,371.5L764.5,374.5L767.5,377.5M775.5,371.5L772.5,374.5L775.5,377.5M783.5,371.5L780.5,374.5L783.5,377.5M791.5,371.5L788.5,374.5L791.5,377.5M799.5,371.5L796.5,374.5L799.5,377.5M807.5,371.5L804.5,374.5L807.5,377.5M815.5,371.5L812.5,374.5L815.5,377.5M823.5,371.5L820.5,374.5L823.5,377.5M831.5,371.5L828.5,374.5L831.5,377.5M839.5,371.5L836.5,374.5L839.5,377.5M847.5,371.5L844.5,374.5L847.5,377.5M855.5,371.5L852.5,374.5L855.5,377.5M863.5,371.5L860.5,374.5L863.5,377.5M871.5,371.5L868.5,374.5L871.5,377.5M879.5,371.5L876.5,374.5L879.5,377.5M887.5,371.5L884.5,374.5L887.5,377.5M895.5,371.5L892.5,374.5L895.5,377.5M903.5,371.5L900.5,374.5L903.5,377.5M911.5,371.5L908.5,374.5L911.5,377.5M919.5,371.5L916.5,374.5L919.5,377.5M927.5,371.5L924.5,374.5L927.5,377.5M935.5,371.5L932.5,374.5L935.5,377.5M943.5,371.5L940.5,374.5L943.5,377.5" stroke="#0c0c78" stroke-width="1" fill="none"/>
<text x="119 127 136" y="0" transform="matrix(1 0 0 1.075 0 395)" font-size="13" fill="#0c0c78">TEX</text><text x="145" y="395" font-size="13" fill="#0c0c78">2</text>
<rect x="156" y="390" width="793" height="1" fill="#0c0c78"/>
<path d="M159.5,387.5L156.5,390.5L159.5,393.5M167.5,387.5L164.5,390.5L167.5,393.5M175.5,387.5L172.5,390.5L175.5,393.5M183.5,387.5L180.5,390.5L183.5,393.5M191.5,387.5L188.5,390.5L191.5,393.5M199.5,387.5L196.5,390.5L199.5,393.5M207.5,387.5L204.5,390.5L207.5,393.5M215.5,387.5L212.5,390.5L215.5,393.5M223.5,387.5L220.5,390.5L223.5,393.5M231.5,387.5L228.5,390.5L231.5,393.5M239.5,387.5L236.5,390.5L239.5,393.5M247.5,387.5L244.5,390.5L247.5,393.5M255.5,387.5L252.5,390.5L255.5,393.5M263.5,387.5L260.5,390.5L263.5,393.5M271.5,387.5L268.5,390.5L271.5,393.5M279.5,387.5L276.5,390.5L279.5,393.5M287.5,387.5L284.5,390.5L287.5,393.5M295.5,387.5L292.5,390.5L295.5,393.5M303.5,387.5L300.5,390.5L303.5,393.5M311.5,387.5L308.5,390.5L311.5,393.5M319.5,387.5L316.5,390.5L319.5,393.5M327.5,387.5L324.5,390.5L327.5,393.5M335.5,387.5L332.5,390.5L335.5,393.5M343.5,387.5L340.5,390.5L343.5,393.5M351.5,387.5L348.5,390.5L351.5,393.5M359.5,387.5L356.5,390.5L359.5,393.5M367.5,387.5L364.5,390.5L367.5,393.5M375.5,387.5L372.5,390.5L375.5,393.5M383.5,387.5L380.5,390.5L383.5,393.5M391.5,387.5L388.5,390.5L391.5,393.5M399.5,387.5L396.5,390.5L399.5,393.5M407.5,387.5L404.5,390.5L407.5,393.5M415.5,387.5L412.5,390.5L415.5,393.5M423.5,387.5L420.5,390.5L423.5,393.5M431.5,387.5L428.5,390.5L431.5,393.5M439.5,387.5L436.5,390.5L439.5,393.5M447.5,387.5L444.5,390.5L447.5,393.5M455.5,387.5L452.5,390.5L455.5,393.5M463.5,387.5L460.5,390.5L463.5,393.5M471.5,387.5L468.5,390.5L471.5,393.5M479.5,387.5L476.5,390.5L479.5,393.5M487.5,387.5L484.5,390.5L487.5,393.5M495.5,387.5L492.5,390.5L495.5,393.5M503.5,387.5L500.5,390.5L503.5,393.5M511.5,387.5L508.5,390.5L511.5,393.5M519.5,387.5L516.5,390.5L519.5,393.5M527.5,387.5L524.5,390.5L527.5,393.5M535.5,387.5L532.5,390.5L535.5,393.5M543.5,387.5L540.5,390.5L543.5,393.5M551.5,387.5L548.5,390.5L551.5,393.5M559.5,387.5L556.5,390.5L559.5,393.5M567.5,387.5L564.5,390.5L567.5,393.5M575.5,387.5L572.5,390.5L575.5,393.5M583.5,387.5L580.5,390.5L583.5,393.5M591.5,387.5L588.5,390.5L591.5,393.5M599.5,387.5L596.5,390.5L599.5,393.5M607.5,387.5L604.5,390.5L607.5,393.5M615.5,387.5L612.5,390.5L615.5,393.5M623.5,387.5L620.5,390.5L623.5,393.5M631.5,387.5L628.5,390.5L631.5,393.5M639.5,387.5L636.5,390.5L639.5,393.5M647.5,387.5L644.5,390.5L647.5,393.5M655.5,387.5L652.5,390.5L655.5,393.5M663.5,387.5L660.5,390.5L663.5,393.5M671.5,387.5L668.5,390.5L671.5,393.5M679.5,387.5L676.5,390.5L679.5,393.5M687.5,387.5L684.5,390.5L687.5,393.5M695.5,387.5L692.5,390.5L695.5,393.5M703.5,387.5L700.5,390.5L703.5,393.5M711.5,387.5L708.5,390.5L711.5,393.5M719.5,387.5L716.5,390.5L719.5,393.5M727.5,387.5L724.5,390.5L727.5,393.5M735.5,387.5L732.5,390.5L735.5,393.5M743.5,387.5L740.5,390.5L743.5,393.5M751.5,387.5L748.5,390.5L751.5,393.5M759.5,387.5L756.5,390.5L759.5,393.5M767.5,387.5L764.5,390.5L767.5,393.5M775.5,387.5L772.5,390.5L775.5,393.5M783.5,387.5L780.5,390.5L783.5,393.5M791.5,387.5L788.5,390.5L791.5,393.5M799.5,387.5L796.5,390.5L799.5,393.5M807.5,387.5L804.5,390.5L807.5,393.5M815.5,387.5L812.5,390.5L815.5,393.5M823.5,387.5L820.5,390.5L823.5,393.5M831.5,387.5L828.5,390.5L831.5,393.5M839.5,387.5L836.5,390.5L839.5,393.5M847.5,387.5L844.5,390.5L847.5,393.5M855.5,387.5L852.5,390.5L855.5,393.5M863.5,387.5L860.5,390.5L863.5,393.5M871.5,387.5L868.5,390.5L871.5,393.5M879.5,387.5L876.5,390.5L879.5,393.5M887.5,387.5L884.5,390.5L887.5,393.5M895.5,387.5L892.5,390.5L895.5,393.5M903.5,387.5L900.5,390.5L903.5,393.5M911.5,387.5L908.5,390.5L911.5,393.5M919.5,387.5L916.5,390.5L919.5,393.5M927.5,387.5L924.5,390.5L927.5,393.5M935.5,387.5L932.5,390.5L935.5,393.5M943.5,387.5L940.5,390.5L943.5,393.5" stroke="#0c0c78" stroke-width="1" fill="none"/>
<text x="119 127 136" y="0" transform="matrix(1 0 0 1.075 0 411)" font-size="13" fill="#0c0c78">TEX</text><text x="145" y="411" font-size="13" fill="#0c0c78">2</text>
<rect x="156" y="406" width="793" height="1" fill="#0c0c78"/>
<path d="M159.5,403.5L156.5,406.5L159.5,409.5M167.5,403.5L164.5,406.5L167.5,409.5M175.5,403.5L172.5,406.5L175.5,409.5M183.5,403.5L180.5,406.5L183.5,409.5M191.5,403.5L188.5,406.5L191.5,409.5M199.5,403.5L196.5,406.5L199.5,409.5M207.5,403.5L204.5,406.5L207.5,409.5M215.5,403.5L212.5,406.5L215.5,409.5M223.5,403.5L220.5,406.5L223.5,409.5M231.5,403.5L228.5,406.5L231.5,409.5M239.5,403.5L236.5,406.5L239.5,409.5M247.5,403.5L244.5,406.5L247.5,409.5M255.5,403.5L252.5,406.5L255.5,409.5M263.5,403.5L260.5,406.5L263.5,409.5M271.5,403.5L268.5,406.5L271.5,409.5M279.5,403.5L276.5,406.5L279.5,409.5M287.5,403.5L284.5,406.5L287.5,409.5M295.5,403.5L292.5,406.5L295.5,409.5M303.5,403.5L300.5,406.5L303.5,409.5M311.5,403.5L308.5,406.5L311.5,409.5M319.5,403.5L316.5,406.5L319.5,409.5M327.5,403.5L324.5,406.5L327.5,409.5M335.5,403.5L332.5,406.5L335.5,409.5M343.5,403.5L340.5,406.5L343.5,409.5M351.5,403.5L348.5,406.5L351.5,409.5M359.5,403.5L356.5,406.5L359.5,409.5M367.5,403.5L364.5,406.5L367.5,409.5M375.5,403.5L372.5,406.5L375.5,409.5M383.5,403.5L380.5,406.5L383.5,409.5M391.5,403.5L388.5,406.5L391.5,409.5M399.5,403.5L396.5,406.5L399.5,409.5M407.5,403.5L404.5,406.5L407.5,409.5M415.5,403.5L412.5,406.5L415.5,409.5M423.5,403.5L420.5,406.5L423.5,409.5M431.5,403.5L428.5,406.5L431.5,409.5M439.5,403.5L436.5,406.5L439.5,409.5M447.5,403.5L444.5,406.5L447.5,409.5M455.5,403.5L452.5,406.5L455.5,409.5M463.5,403.5L460.5,406.5L463.5,409.5M471.5,403.5L468.5,406.5L471.5,409.5M479.5,403.5L476.5,406.5L479.5,409.5M487.5,403.5L484.5,406.5L487.5,409.5M495.5,403.5L492.5,406.5L495.5,409.5M503.5,403.5L500.5,406.5L503.5,409.5M511.5,403.5L508.5,406.5L511.5,409.5M519.5,403.5L516.5,406.5L519.5,409.5M527.5,403.5L524.5,406.5L527.5,409.5M535.5,403.5L532.5,406.5L535.5,409.5M543.5,403.5L540.5,406.5L543.5,409.5M551.5,403.5L548.5,406.5L551.5,409.5M559.5,403.5L556.5,406.5L559.5,409.5M567.5,403.5L564.5,406.5L567.5,409.5M575.5,403.5L572.5,406.5L575.5,409.5M583.5,403.5L580.5,406.5L583.5,409.5M591.5,403.5L588.5,406.5L591.5,409.5M599.5,403.5L596.5,406.5L599.5,409.5M607.5,403.5L604.5,406.5L607.5,409.5M615.5,403.5L612.5,406.5L615.5,409.5M623.5,403.5L620.5,406.5L623.5,409.5M631.5,403.5L628.5,406.5L631.5,409.5M639.5,403.5L636.5,406.5L639.5,409.5M647.5,403.5L644.5,406.5L647.5,409.5M655.5,403.5L652.5,406.5L655.5,409.5M663.5,403.5L660.5,406.5L663.5,409.5M671.5,403.5L668.5,406.5L671.5,409.5M679.5,403.5L676.5,406.5L679.5,409.5M687.5,403.5L684.5,406.5L687.5,409.5M695.5,403.5L692.5,406.5L695.5,409.5M703.5,403.5L700.5,406.5L703.5,409.5M711.5,403.5L708.5,406.5L711.5,409.5M719.5,403.5L716.5,406.5L719.5,409.5M727.5,403.5L724.5,406.5L727.5,409.5M735.5,403.5L732.5,406.5L735.5,409.5M743.5,403.5L740.5,406.5L743.5,409.5M751.5,403.5L748.5,406.5L751.5,409.5M759.5,403.5L756.5,406.5L759.5,409.5M767.5,403.5L764.5,406.5L767.5,409.5M775.5,403.5L772.5,406.5L775.5,409.5M783.5,403.5L780.5,406.5L783.5,409.5M791.5,403.5L788.5,406.5L791.5,409.5M799.5,403.5L796.5,406.5L799.5,409.5M807.5,403.5L804.5,406.5L807.5,409.5M815.5,403.5L812.5,406.5L815.5,409.5M823.5,403.5L820.5,406.5L823.5,409.5M831.5,403.5L828.5,406.5L831.5,409.5M839.5,403.5L836.5,406.5L839.5,409.5M847.5,403.5L844.5,406.5L847.5,409.5M855.5,403.5L852.5,406.5L855.5,409.5M863.5,403.5L860.5,406.5L863.5,409.5M871.5,403.5L868.5,406.5L871.5,409.5M879.5,403.5L876.5,406.5L879.5,409.5M887.5,403.5L884.5,406.5L887.5,409.5M895.5,403.5L892.5,406.5L895.5,409.5M903.5,403.5L900.5,406.5L903.5,409.5M911.5,403.5L908.5,406.5L911.5,409.5M919.5,403.5L916.5,406.5L919.5,409.5M927.5,403.5L924.5,406.5L927.5,409.5M935.5,403.5L932.5,406.5L935.5,409.5M943.5,403.5L940.5,406.5L943.5,409.5" stroke="#0c0c78" stroke-width="1" fill="none"/>
<text x="119 127 136" y="0" transform="matrix(1 0 0 1.075 0 427)" font-size="13" fill="#1069ab">TEX</text><text x="145" y="427" font-size="13" fill="#1069ab">2</text>
<rect x="156" y="422" width="793" height="1" fill="#1069ab"/>
<path d="M159.5,419.5L156.5,422.5L159.5,425.5M167.5,419.5L164.5,422.5L167.5,425.5M175.5,419.5L172.5,422.5L175.5,425.5M183.5,419.5L180.5,422.5L183.5,425.5M191.5,419.5L188.5,422.5L191.5,425.5M199.5,419.5L196.5,422.5L199.5,425.5M207.5,419.5L204.5,422.5L207.5,425.5M215.5,419.5L212.5,422.5L215.5,425.5M223.5,419.5L220.5,422.5L223.5,425.5M231.5,419.5L228.5,422.5L231.5,425.5M239.5,419.5L236.5,422.5L239.5,425.5M247.5,419.5L244.5,422.5L247.5,425.5M255.5,419.5L252.5,422.5L255.5,425.5M263.5,419.5L260.5,422.5L263.5,425.5M271.5,419.5L268.5,422.5L271.5,425.5M279.5,419.5L276.5,422.5L279.5,425.5M287.5,419.5L284.5,422.5L287.5,425.5M295.5,419.5L292.5,422.5L295.5,425.5M303.5,419.5L300.5,422.5L303.5,425.5M311.5,419.5L308.5,422.5L311.5,425.5M319.5,419.5L316.5,422.5L319.5,425.5M327.5,419.5L324.5,422.5L327.5,425.5M335.5,419.5L332.5,422.5L335.5,425.5M343.5,419.5L340.5,422.5L343.5,425.5M351.5,419.5L348.5,422.5L351.5,425.5M359.5,419.5L356.5,422.5L359.5,425.5M367.5,419.5L364.5,422.5L367.5,425.5M375.5,419.5L372.5,422.5L375.5,425.5M383.5,419.5L380.5,422.5L383.5,425.5M391.5,419.5L388.5,422.5L391.5,425.5M399.5,419.5L396.5,422.5L399.5,425.5M407.5,419.5L404.5,422.5L407.5,425.5M415.5,419.5L412.5,422.5L415.5,425.5M423.5,419.5L420.5,422.5L423.5,425.5M431.5,419.5L428.5,422.5L431.5,425.5M439.5,419.5L436.5,422.5L439.5,425.5M447.5,419.5L444.5,422.5L447.5,425.5M455.5,419.5L452.5,422.5L455.5,425.5M463.5,419.5L460.5,422.5L463.5,425.5M471.5,419.5L468.5,422.5L471.5,425.5M479.5,419.5L476.5,422.5L479.5,425.5M487.5,419.5L484.5,422.5L487.5,425.5M495.5,419.5L492.5,422.5L495.5,425.5M503.5,419.5L500.5,422.5L503.5,425.5M511.5,419.5L508.5,422.5L511.5,425.5M519.5,419.5L516.5,422.5L519.5,425.5M527.5,419.5L524.5,422.5L527.5,425.5M535.5,419.5L532.5,422.5L535.5,425.5M543.5,419.5L540.5,422.5L543.5,425.5M551.5,419.5L548.5,422.5L551.5,425.5M559.5,419.5L556.5,422.5L559.5,425.5M567.5,419.5L564.5,422.5L567.5,425.5M575.5,419.5L572.5,422.5L575.5,425.5M583.5,419.5L580.5,422.5L583.5,425.5M591.5,419.5L588.5,422.5L591.5,425.5M599.5,419.5L596.5,422.5L599.5,425.5M607.5,419.5L604.5,422.5L607.5,425.5M615.5,419.5L612.5,422.5L615.5,425.5M623.5,419.5L620.5,422.5L623.5,425.5M631.5,419.5L628.5,422.5L631.5,425.5M639.5,419.5L636.5,422.5L639.5,425.5M647.5,419.5L644.5,422.5L647.5,425.5M655.5,419.5L652.5,422.5L655.5,425.5M663.5,419.5L660.5,422.5L663.5,425.5M671.5,419.5L668.5,422.5L671.5,425.5M679.5,419.5L676.5,422.5L679.5,425.5M687.5,419.5L684.5,422.5L687.5,425.5M695.5,419.5L692.5,422.5L695.5,425.5M703.5,419.5L700.5,422.5L703.5,425.5M711.5,419.5L708.5,422.5L711.5,425.5M719.5,419.5L716.5,422.5L719.5,425.5M727.5,419.5L724.5,422.5L727.5,425.5M735.5,419.5L732.5,422.5L735.5,425.5M743.5,419.5L740.5,422.5L743.5,425.5M751.5,419.5L748.5,422.5L751.5,425.5M759.5,419.5L756.5,422.5L759.5,425.5M767.5,419.5L764.5,422.5L767.5,425.5M775.5,419.5L772.5,422.5L775.5,425.5M783.5,419.5L780.5,422.5L783.5,425.5M791.5,419.5L788.5,422.5L791.5,425.5M799.5,419.5L796.5,422.5L799.5,425.5M807.5,419.5L804.5,422.5L807.5,425.5M815.5,419.5L812.5,422.5L815.5,425.5M823.5,419.5L820.5,422.5L823.5,425.5M831.5,419.5L828.5,422.5L831.5,425.5M839.5,419.5L836.5,422.5L839.5,425.5M847.5,419.5L844.5,422.5L847.5,425.5M855.5,419.5L852.5,422.5L855.5,425.5M863.5,419.5L860.5,422.5L863.5,425.5M871.5,419.5L868.5,422.5L871.5,425.5M879.5,419.5L876.5,422.5L879.5,425.5M887.5,419.5L884.5,422.5L887.5,425.5M895.5,419.5L892.5,422.5L895.5,425.5M903.5,419.5L900.5,422.5L903.5,425.5M911.5,419.5L908.5,422.5L911.5,425.5M919.5,419.5L916.5,422.5L919.5,425.5M927.5,419.5L924.5,422.5L927.5,425.5M935.5,419.5L932.5,422.5L935.5,425.5M943.5,419.5L940.5,422.5L943.5,425.5" stroke="#1069ab" stroke-width="1" fill="none"/>
<text x="119 127 136" y="0" transform="matrix(1 0 0 1.075 0 443)" font-size="13" fill="#0c0c78">TEX</text><text x="145" y="443" font-size="13" fill="#0c0c78">2</text>
<rect x="156" y="438" width="793" height="1" fill="#0c0c78"/>
<path d="M159.5,435.5L156.5,438.5L159.5,441.5M167.5,435.5L164.5,438.5L167.5,441.5M175.5,435.5L172.5,438.5L175.5,441.5M183.5,435.5L180.5,438.5L183.5,441.5M191.5,435.5L188.5,438.5L191.5,441.5M199.5,435.5L196.5,438.5L199.5,441.5M207.5,435.5L204.5,438.5L207.5,441.5M215.5,435.5L212.5,438.5L215.5,441.5M223.5,435.5L220.5,438.5L223.5,441.5M231.5,435.5L228.5,438.5L231.5,441.5M239.5,435.5L236.5,438.5L239.5,441.5M247.5,435.5L244.5,438.5L247.5,441.5M255.5,435.5L252.5,438.5L255.5,441.5M263.5,435.5L260.5,438.5L263.5,441.5M271.5,435.5L268.5,438.5L271.5,441.5M279.5,435.5L276.5,438.5L279.5,441.5M287.5,435.5L284.5,438.5L287.5,441.5M295.5,435.5L292.5,438.5L295.5,441.5M303.5,435.5L300.5,438.5L303.5,441.5M311.5,435.5L308.5,438.5L311.5,441.5M319.5,435.5L316.5,438.5L319.5,441.5M327.5,435.5L324.5,438.5L327.5,441.5M335.5,435.5L332.5,438.5L335.5,441.5M343.5,435.5L340.5,438.5L343.5,441.5M351.5,435.5L348.5,438.5L351.5,441.5M359.5,435.5L356.5,438.5L359.5,441.5M367.5,435.5L364.5,438.5L367.5,441.5M375.5,435.5L372.5,438.5L375.5,441.5M383.5,435.5L380.5,438.5L383.5,441.5M391.5,435.5L388.5,438.5L391.5,441.5M399.5,435.5L396.5,438.5L399.5,441.5M407.5,435.5L404.5,438.5L407.5,441.5M415.5,435.5L412.5,438.5L415.5,441.5M423.5,435.5L420.5,438.5L423.5,441.5M431.5,435.5L428.5,438.5L431.5,441.5M439.5,435.5L436.5,438.5L439.5,441.5M447.5,435.5L444.5,438.5L447.5,441.5M455.5,435.5L452.5,438.5L455.5,441.5M463.5,435.5L460.5,438.5L463.5,441.5M471.5,435.5L468.5,438.5L471.5,441.5M479.5,435.5L476.5,438.5L479.5,441.5M487.5,435.5L484.5,438.5L487.5,441.5M495.5,435.5L492.5,438.5L495.5,441.5M503.5,435.5L500.5,438.5L503.5,441.5M511.5,435.5L508.5,438.5L511.5,441.5M519.5,435.5L516.5,438.5L519.5,441.5M527.5,435.5L524.5,438.5L527.5,441.5M535.5,435.5L532.5,438.5L535.5,441.5M543.5,435.5L540.5,438.5L543.5,441.5M551.5,435.5L548.5,438.5L551.5,441.5M559.5,435.5L556.5,438.5L559.5,441.5M567.5,435.5L564.5,438.5L567.5,441.5M575.5,435.5L572.5,438.5L575.5,441.5M583.5,435.5L580.5,438.5L583.5,441.5M591.5,435.5L588.5,438.5L591.5,441.5M599.5,435.5L596.5,438.5L599.5,441.5M607.5,435.5L604.5,438.5L607.5,441.5M615.5,435.5L612.5,438.5L615.5,441.5M623.5,435.5L620.5,438.5L623.5,441.5M631.5,435.5L628.5,438.5L631.5,441.5M639.5,435.5L636.5,438.5L639.5,441.5M647.5,435.5L644.5,438.5L647.5,441.5M655.5,435.5L652.5,438.5L655.5,441.5M663.5,435.5L660.5,438.5L663.5,441.5M671.5,435.5L668.5,438.5L671.5,441.5M679.5,435.5L676.5,438.5L679.5,441.5M687.5,435.5L684.5,438.5L687.5,441.5M695.5,435.5L692.5,438.5L695.5,441.5M703.5,435.5L700.5,438.5L703.5,441.5M711.5,435.5L708.5,438.5L711.5,441.5M719.5,435.5L716.5,438.5L719.5,441.5M727.5,435.5L724.5,438.5L727.5,441.5M735.5,435.5L732.5,438.5L735.5,441.5M743.5,435.5L740.5,438.5L743.5,441.5M751.5,435.5L748.5,438.5L751.5,441.5M759.5,435.5L756.5,438.5L759.5,441.5M767.5,435.5L764.5,438.5L767.5,441.5M775.5,435.5L772.5,438.5L775.5,441.5M783.5,435.5L780.5,438.5L783.5,441.5M791.5,435.5L788.5,438.5L791.5,441.5M799.5,435.5L796.5,438.5L799.5,441.5M807.5,435.5L804.5,438.5L807.5,441.5M815.5,435.5L812.5,438.5L815.5,441.5M823.5,435.5L820.5,438.5L823.5,441.5M831.5,435.5L828.5,438.5L831.5,441.5M839.5,435.5L836.5,438.5L839.5,441.5M847.5,435.5L844.5,438.5L847.5,441.5M855.5,435.5L852.5,438.5L855.5,441.5M863.5,435.5L860.5,438.5L863.5,441.5M871.5,435.5L868.5,438.5L871.5,441.5M879.5,435.5L876.5,438.5L879.5,441.5M887.5,435.5L884.5,438.5L887.5,441.5M895.5,435.5L892.5,438.5L895.5,441.5M903.5,435.5L900.5,438.5L903.5,441.5M911.5,435.5L908.5,438.5L911.5,441.5M919.5,435.5L916.5,438.5L919.5,441.5M927.5,435.5L924.5,438.5L927.5,441.5M935.5,435.5L932.5,438.5L935.5,441.5M943.5,435.5L940.5,438.5L943.5,441.5" stroke="#0c0c78" stroke-width="1" fill="none"/>
<text x="491 499 505 508 515 521 527 530 536 542 548 554 560 563 566 570 576 585 588 596 604 611" y="0" transform="matrix(1 0 0 1.075 0 459)" font-size="11" fill="#000">RefSeq genes from NCBI</text>
<rect x="157" y="469" width="792" height="1" fill="#0c0c78"/>
<text x="60 69 76 80 89 96 103 107 116 123 127 134 138 145" y="0" transform="matrix(1 0 0 1.075 0 474)" font-size="13" fill="#0c0c78">RefSeq Curated</text>
<text x="445 452 458 464 466 468 474 480 483 485 491 497 503 506 509 516 522 528 534 540 546 552 558 564 567 569 575 578 585 591 593 599 605 608 610 613 615 621 624 631 635 638 640 646 648 654" y="0" transform="matrix(1 0 0 1.075 0 490)" font-size="11" fill="#000">Publications: Sequences in Scientific Articles</text>
<text x="87 96 103 110 117 124 131 138 145" y="0" transform="matrix(1 0 0 1.075 0 505)" font-size="13" fill="#000">Sequences</text>
<text x="118 127 136 145" y="0" transform="matrix(1 0 0 1.075 0 521)" font-size="13" fill="#000">SNPs</text>
<text x="368 378 389 393 404 408 418 425 432 439 443 452 459 466 473 480 484 491 498 505 512 516 520 524 533 540 544 551 555 565 569 576 583 590 594 603 610 617 621 630 637 641 650 653 660 667 674 681 688 692 699 706 713 720 723 730" y="0" transform="matrix(1 0 0 1.075 0 538)" font-size="13" fill="#005000">OMIM Gene Phenotypes - Dark Green Can Be Disease-causing</text>
<rect x="156" y="540" width="793" height="15" fill="#bebebe"/>
<text x="74 84 95 99 110 114 124 131 138 145" y="0" transform="matrix(1 0 0 1.075 0 552)" font-size="13" fill="#005000">OMIM Genes</text>
<text x="436 443 449 455 459 462 465 474 480 486 492 495 497 503 506 513 519 523 525 531 537 540 546 549 552 556 562 571 574 580 586 593 601 608 611 615 621 623 629 635 641 647" y="0" transform="matrix(1 0 0 1.075 0 568)" font-size="11" fill="#000">Short Genetic Variants from dbSNP release </text><text x="650 656 662" y="568" font-size="11" fill="#000">155</text>
<text x="26 35 42 53 64 71 78 82 89 96 105 114 123" y="0" transform="matrix(1 0 0 1.075 0 583)" font-size="13" fill="#000">Common dbSNP(</text><text x="127 134 141" y="583" font-size="13" fill="#000">155</text><text x="148" y="0" transform="matrix(1 0 0 1.075 0 583)" font-size="13" fill="#000">)</text>
<text x="266 276 283 290 297 301 310 317 324 328 335 342 349 352 359 366 370 373 380" y="0" transform="matrix(1 0 0 1.075 0 600)" font-size="13" fill="#000">Gene Expression in </text><text x="384 391 398" y="600" font-size="13" fill="#000">54 </text><text x="402 406 409 416 423 430 437 444 448 452 456 463 474 478 488 496 505 512 516 525 534 543 547 554 561 568 572 579 583" y="0" transform="matrix(1 0 0 1.075 0 600)" font-size="13" fill="#000">tissues from GTEx RNA-seq of </text><text x="587 594 601 608 615 622" y="600" font-size="13" fill="#000">17382 </text><text x="626 633 640 651 658 661 668 675 679" y="0" transform="matrix(1 0 0 1.075 0 600)" font-size="13" fill="#000">samples, </text><text x="683 690 697 704" y="600" font-size="13" fill="#000">948 </text><text x="708 715 722 729 736 740 747 751 755" y="0" transform="matrix(1 0 0 1.075 0 600)" font-size="13" fill="#000">donors (V</text><text x="764" y="600" font-size="13" fill="#000">8</text><text x="771 775 779 788 795 802" y="0" transform="matrix(1 0 0 1.075 0 600)" font-size="13" fill="#000">, Aug </text><text x="806 813 820 827" y="600" font-size="13" fill="#000">2019</text><text x="834" y="0" transform="matrix(1 0 0 1.075 0 600)" font-size="13" fill="#000">)</text>
<rect x="156" y="603" width="378" height="52" fill="#fff"/>
<rect x="156.5" y="603.5" width="377" height="51" fill="none" stroke="#f2f2f2" stroke-width="1"/>
<rect x="156" y="615" width="5" height="39" fill="#ffa54f"/>
<rect x="163" y="616" width="5" height="38" fill="#ee9a00"/>
<rect x="170" y="610" width="5" height="44" fill="#8fbc8f"/>
<rect x="177" y="610" width="5" height="44" fill="#8b1c62"/>
<rect x="184" y="603" width="5" height="51" fill="#ee6a50"/>
<rect x="191" y="612" width="5" height="42" fill="#ff0000"/>
<rect x="198" y="617" width="5" height="37" fill="#cdb79e"/>
<rect x="205" y="614" width="5" height="40" fill="#eeee00"/>
<rect x="212" y="615" width="5" height="39" fill="#eeee00"/>
<rect x="219" y="612" width="5" height="42" fill="#eeee00"/>
<rect x="226" y="607" width="5" height="47" fill="#eeee00"/>
<rect x="233" y="609" width="5" height="45" fill="#eeee00"/>
<rect x="240" y="614" width="5" height="40" fill="#eeee00"/>
<rect x="247" y="611" width="5" height="43" fill="#eeee00"/>
<rect x="254" y="613" width="5" height="41" fill="#eeee00"/>
<rect x="261" y="612" width="5" height="42" fill="#eeee00"/>
<rect x="268" y="612" width="5" height="42" fill="#eeee00"/>
<rect x="275" y="612" width="5" height="42" fill="#eeee00"/>
<rect x="282" y="606" width="5" height="48" fill="#eeee00"/>
<rect x="289" y="608" width="5" height="46" fill="#eeee00"/>
<rect x="296" y="614" width="5" height="40" fill="#00cdcd"/>
<rect x="303" y="625" width="5" height="29" fill="#ee82ee"/>
<rect x="310" y="612" width="5" height="42" fill="#9ac0cd"/>
<rect x="317" y="612" width="5" height="42" fill="#eed5d2"/>
<rect x="324" y="609" width="5" height="45" fill="#eed5d2"/>
<rect x="331" y="614" width="5" height="40" fill="#cdb79e"/>
<rect x="338" y="620" width="5" height="34" fill="#eec591"/>
<rect x="345" y="615" width="5" height="39" fill="#8b7355"/>
<rect x="352" y="616" width="5" height="38" fill="#8b7355"/>
<rect x="359" y="615" width="5" height="39" fill="#cdaa7d"/>
<rect x="366" y="615" width="5" height="39" fill="#eed5d2"/>
<rect x="373" y="620" width="5" height="34" fill="#b452cd"/>
<rect x="380" y="621" width="5" height="33" fill="#7a378b"/>
<rect x="387" y="626" width="5" height="28" fill="#cdb79e"/>
<rect x="394" y="625" width="5" height="29" fill="#cdb79e"/>
<rect x="401" y="622" width="5" height="32" fill="#cdb79e"/>
<rect x="408" y="612" width="5" height="42" fill="#9acd32"/>
<rect x="415" y="620" width="5" height="34" fill="#cdb79e"/>
<rect x="422" y="612" width="5" height="42" fill="#7a67ee"/>
<rect x="429" y="610" width="5" height="44" fill="#ffd700"/>
<rect x="436" y="615" width="5" height="39" fill="#ffb6c1"/>
<rect x="443" y="622" width="5" height="32" fill="#cd9b1d"/>
<rect x="450" y="615" width="5" height="39" fill="#b4eeb4"/>
<rect x="457" y="617" width="5" height="37" fill="#d9d9d9"/>
<rect x="464" y="615" width="5" height="39" fill="#3a5fcd"/>
<rect x="471" y="613" width="5" height="41" fill="#1e90ff"/>
<rect x="478" y="624" width="5" height="30" fill="#cdb79e"/>
<rect x="485" y="622" width="5" height="32" fill="#cdb79e"/>
<rect x="492" y="618" width="5" height="36" fill="#ffd39b"/>
<rect x="499" y="603" width="5" height="51" fill="#a6a6a6"/>
<rect x="506" y="610" width="5" height="44" fill="#008b45"/>
<rect x="513" y="612" width="5" height="42" fill="#eed5d2"/>
<rect x="520" y="615" width="5" height="39" fill="#eed5d2"/>
<rect x="527" y="633" width="5" height="21" fill="#ff00ff"/>
<rect x="156" y="655" width="793" height="2" fill="#000068"/>
<text x="119 127 136" y="0" transform="matrix(1 0 0 1.075 0 636)" font-size="13" fill="#000">TEX</text><text x="145" y="636" font-size="13" fill="#000">2</text>
<text x="281" y="0" transform="matrix(1 0 0 1.075 0 672)" font-size="13" fill="#000">H</text><text x="290" y="672" font-size="13" fill="#000">3</text><text x="297" y="0" transform="matrix(1 0 0 1.075 0 672)" font-size="13" fill="#000">K</text><text x="306 313" y="672" font-size="13" fill="#000">27</text><text x="320 329 336 340 351 358 362 369 373 377 387 391 395 402 409 413 421 428 435 442 449 453 462 469 476 480 484 493 500 504 507 514 521 525 534 541 548 555 558 565 569 576 580 587 591 600 603 610 621 628 635 639 646 650 654 661 668" y="0" transform="matrix(1 0 0 1.075 0 672)" font-size="13" fill="#000">Ac Mark (Often Found Near Active Regulatory Elements) on </text><text x="672 679" y="672" font-size="13" fill="#000">7 </text><text x="683 690 697 700 703 707 710 713 720 727 734 738 742 746 753 764 768 777 786 795 805 814" y="0" transform="matrix(1 0 0 1.075 0 672)" font-size="13" fill="#000">cell lines from ENCODE</text>
<text x="13 20 27 34 41 45 52 59 63" y="0" transform="matrix(1 0 0 1.075 0 686)" font-size="13" fill="#000">Layered H</text><text x="72" y="686" font-size="13" fill="#000">3</text><text x="79" y="0" transform="matrix(1 0 0 1.075 0 686)" font-size="13" fill="#000">K</text><text x="88 95" y="686" font-size="13" fill="#000">27</text><text x="102 111" y="0" transform="matrix(1 0 0 1.075 0 686)" font-size="13" fill="#000">Ac</text>
<rect x="156" y="702" width="793" height="1" fill="#7a3478"/>
<rect x="156" y="703" width="793" height="1" fill="#2c1060"/>
<text x="405 412 419 426" y="718" font-size="13" fill="#3c3c8c">100 </text><text x="430 437 444 448 452 459 466 470 477 481 488 495 499 508 515 522 529 538 541 548 555 559 568 575 582 589 596 600 607 614 618 621 628 635 639 646 653 657 666 673 680 683 690" y="0" transform="matrix(1 0 0 1.075 0 718)" font-size="13" fill="#3c3c8c">vertebrates Basewise Conservation by PhyloP</text>
<text x="116" y="717" font-size="13" fill="#3c3c8c">4</text><text x="123" y="0" transform="matrix(1 0 0 1.075 0 717)" font-size="13" fill="#3c3c8c">.</text><text x="127 134 141" y="717" font-size="13" fill="#3c3c8c">88 </text><text x="145" y="0" transform="matrix(1 0 0 1.075 0 717)" font-size="13" fill="#3c3c8c">_</text>
<text x="13 20 27 34" y="742" font-size="13" fill="#3c3c8c">100 </text><text x="38 47 54 58 62 66 70 79 86 93" y="0" transform="matrix(1 0 0 1.075 0 742)" font-size="13" fill="#3c3c8c">Vert. Cons</text>
<text x="119" y="0" transform="matrix(1 0 0 1.075 0 767)" font-size="13" fill="#8c3c3c">-</text><text x="123" y="767" font-size="13" fill="#8c3c3c">4</text><text x="130" y="0" transform="matrix(1 0 0 1.075 0 767)" font-size="13" fill="#8c3c3c">.</text><text x="134 141" y="767" font-size="13" fill="#8c3c3c">5 </text><text x="145" y="0" transform="matrix(1 0 0 1.075 0 767)" font-size="13" fill="#8c3c3c">_</text>
<defs><linearGradient id="gb" x1="0" x2="1" y1="0" y2="0"><stop offset="0" stop-color="#9090f8"/><stop offset=".12" stop-color="#5050f0"/><stop offset=".3" stop-color="#b0b0fa"/><stop offset=".5" stop-color="#c8c8fc"/><stop offset=".7" stop-color="#9898f8"/><stop offset=".9" stop-color="#5050f0"/><stop offset="1" stop-color="#5858f0"/></linearGradient><linearGradient id="go" x1="0" x2="1" y1="0" y2="0"><stop offset="0" stop-color="#e0d8a0"/><stop offset=".15" stop-color="#b8a830"/><stop offset=".4" stop-color="#f6f2dc"/><stop offset=".75" stop-color="#f6f2dc"/><stop offset=".9" stop-color="#d0c468"/><stop offset="1" stop-color="#ece6b4"/></linearGradient></defs>
<rect x="214" y="744" width="42" height="1" fill="url(#gb)"/>
<rect x="687" y="744" width="38" height="1" fill="#e0ffe0"/>
<rect x="703" y="744" width="6" height="1" fill="#00e800"/>
<rect x="846" y="746" width="38" height="1" fill="#b4ffb4"/>
<rect x="848" y="749" width="40" height="1" fill="url(#go)"/>
<rect x="862" y="746" width="6" height="3" fill="#00f000"/>
<text x="445 456 463 466 470 473 480 484 493 496 499 506 513 524 531 538 542 549 553 560 564" y="0" transform="matrix(1 0 0 1.075 0 784)" font-size="13" fill="#000a64">Multiz Alignments of </text><text x="568 575 582 589" y="784" font-size="13" fill="#000a64">100 </text><text x="593 602 609 613 617 624 631 635 642 646 653" y="0" transform="matrix(1 0 0 1.075 0 784)" font-size="13" fill="#000a64">Vertebrates</text>
<text x="121 131 138 145" y="0" transform="matrix(1 0 0 1.075 0 798)" font-size="13" fill="#e08208">Gaps</text>
<text x="111 120 127 138 145" y="0" transform="matrix(1 0 0 1.075 0 813)" font-size="13" fill="#000a64">Human</text>
<text x="228" y="0" transform="matrix(1 0 0 1.075 0 813)" font-size="13" fill="#000a64">G</text>
<text x="387" y="0" transform="matrix(1 0 0 1.075 0 813)" font-size="13" fill="#000a64">C</text>
<text x="546" y="0" transform="matrix(1 0 0 1.075 0 813)" font-size="13" fill="#000a64">A</text>
<text x="705" y="0" transform="matrix(1 0 0 1.075 0 813)" font-size="13" fill="#000a64">T</text>
<text x="864" y="0" transform="matrix(1 0 0 1.075 0 813)" font-size="13" fill="#000a64">T</text>
<text x="108 117 124 131 138 145" y="0" transform="matrix(1 0 0 1.075 0 828)" font-size="13" fill="#000a64">Rhesus</text>
<text x="228" y="0" transform="matrix(1 0 0 1.075 0 828)" font-size="13" fill="#000a64">G</text>
<text x="387" y="0" transform="matrix(1 0 0 1.075 0 828)" font-size="13" fill="#000a64">C</text>
<text x="546" y="0" transform="matrix(1 0 0 1.075 0 828)" font-size="13" fill="#888cc2">T</text>
<text x="705" y="0" transform="matrix(1 0 0 1.075 0 828)" font-size="13" fill="#000a64">T</text>
<text x="864" y="0" transform="matrix(1 0 0 1.075 0 828)" font-size="13" fill="#000a64">T</text>
<text x="113 124 131 138 145" y="0" transform="matrix(1 0 0 1.075 0 843)" font-size="13" fill="#005a0a">Mouse</text>
<text x="228" y="0" transform="matrix(1 0 0 1.075 0 843)" font-size="13" fill="#000a64">G</text>
<text x="387" y="0" transform="matrix(1 0 0 1.075 0 843)" font-size="13" fill="#000a64">C</text>
<text x="546" y="0" transform="matrix(1 0 0 1.075 0 843)" font-size="13" fill="#888cc2">T</text>
<text x="705" y="0" transform="matrix(1 0 0 1.075 0 843)" font-size="13" fill="#000a64">T</text>
<text x="864" y="0" transform="matrix(1 0 0 1.075 0 843)" font-size="13" fill="#000a64">T</text>
<text x="129 138 145" y="0" transform="matrix(1 0 0 1.075 0 858)" font-size="13" fill="#000a64">Dog</text>
<text x="228" y="0" transform="matrix(1 0 0 1.075 0 858)" font-size="13" fill="#000a64">G</text>
<text x="387" y="0" transform="matrix(1 0 0 1.075 0 858)" font-size="13" fill="#000a64">C</text>
<text x="546" y="0" transform="matrix(1 0 0 1.075 0 858)" font-size="13" fill="#888cc2">T</text>
<text x="705" y="0" transform="matrix(1 0 0 1.075 0 858)" font-size="13" fill="#000a64">T</text>
<text x="864" y="0" transform="matrix(1 0 0 1.075 0 858)" font-size="13" fill="#000a64">T</text>
<text x="101 110 113 120 127 134 141 148" y="0" transform="matrix(1 0 0 1.075 0 873)" font-size="13" fill="#005a0a">Elephant</text>
<text x="229" y="0" transform="matrix(1 0 0 1.075 0 873)" font-size="13" fill="#888cc2">C</text>
<text x="387" y="0" transform="matrix(1 0 0 1.075 0 873)" font-size="13" fill="#000a64">C</text>
<text x="546" y="0" transform="matrix(1 0 0 1.075 0 873)" font-size="13" fill="#888cc2">C</text>
<text x="705" y="0" transform="matrix(1 0 0 1.075 0 873)" font-size="13" fill="#000a64">T</text>
<text x="864" y="0" transform="matrix(1 0 0 1.075 0 873)" font-size="13" fill="#000a64">T</text>
<text x="105 114 121 124 131 138 145" y="0" transform="matrix(1 0 0 1.075 0 888)" font-size="13" fill="#005a0a">Chicken</text>
<text x="84 93 100 104 108 115 122 125 132 139 142 145" y="0" transform="matrix(1 0 0 1.075 0 903)" font-size="13" fill="#000a64">X_tropicalis</text>
<text x="98 106 113 120 124 131 135 138 145" y="0" transform="matrix(1 0 0 1.075 0 918)" font-size="13" fill="#005a0a">Zebrafish</text>
<text x="441 450 457 464 471 478 482 485 492 499 503 512 515 522 533 540 547 551 558 562 569 576 580 589 596 603 610 617 621 632 639 646 653 660" y="0" transform="matrix(1 0 0 1.075 0 934)" font-size="13" fill="#000">Repeating Elements by RepeatMasker</text>
<text x="68 77 84 91 98 105 109 120 127 134 141 148" y="0" transform="matrix(1 0 0 1.075 0 948)" font-size="13" fill="#000">RepeatMasker</text>
</svg>
</body></html>
